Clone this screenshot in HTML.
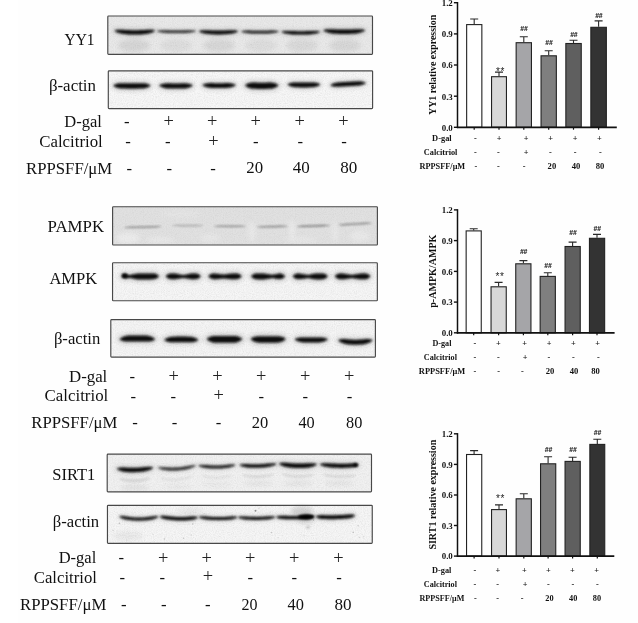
<!DOCTYPE html>
<html lang="en"><head><meta charset="utf-8"><title>Figure</title>
<style>
html,body{margin:0;padding:0;background:#fff;}
body{width:638px;height:623px;overflow:hidden;}
svg{display:block;}
text{white-space:pre;}
</style></head><body>
<svg width="638" height="623" viewBox="0 0 638 623">
<defs>
<filter id="b1" filterUnits="userSpaceOnUse" x="0" y="0" width="638" height="623"><feGaussianBlur stdDeviation="0.9"/></filter>
<filter id="b2" filterUnits="userSpaceOnUse" x="0" y="0" width="638" height="623"><feGaussianBlur stdDeviation="2"/></filter>
<filter id="b4" filterUnits="userSpaceOnUse" x="0" y="0" width="638" height="623"><feGaussianBlur stdDeviation="0.7"/></filter>
<filter id="b5" filterUnits="userSpaceOnUse" x="0" y="0" width="638" height="623"><feGaussianBlur stdDeviation="1.3"/></filter>
<filter id="b3" filterUnits="userSpaceOnUse" x="0" y="0" width="638" height="623"><feGaussianBlur stdDeviation="0.6"/></filter>
<filter id="noise" x="0" y="0" width="100%" height="100%"><feTurbulence type="fractalNoise" baseFrequency="0.9" numOctaves="2" seed="3" result="t"/><feColorMatrix type="matrix" values="0 0 0 0 0.5  0 0 0 0 0.5  0 0 0 0 0.5  0.6 0.6 0.6 0 -0.75"/><feComposite in2="SourceGraphic" operator="in"/></filter>
</defs>
<rect width="638" height="623" fill="#fff"/>
<rect x="18" y="0" width="620" height="623" fill="#fefefe"/>

<rect x="107.8" y="16.0" width="264.7" height="38.3" fill="#e9e9e9"/>
<rect x="107.8" y="16.0" width="264.7" height="38.3" fill="#fff" filter="url(#noise)" opacity="0.5"/>
<ellipse cx="134" cy="45.5" rx="16" ry="6.5" fill="#000" opacity="0.08000000000000002" filter="url(#b2)"/>
<ellipse cx="176" cy="45.5" rx="16" ry="6.5" fill="#000" opacity="0.048" filter="url(#b2)"/>
<ellipse cx="219" cy="45.5" rx="16" ry="6.5" fill="#000" opacity="0.072" filter="url(#b2)"/>
<ellipse cx="261" cy="45.5" rx="16" ry="6.5" fill="#000" opacity="0.048" filter="url(#b2)"/>
<ellipse cx="302" cy="45.5" rx="16" ry="6.5" fill="#000" opacity="0.064" filter="url(#b2)"/>
<ellipse cx="345" cy="45.5" rx="16" ry="6.5" fill="#000" opacity="0.072" filter="url(#b2)"/>
<path d="M114.5 30.6 L116.0 30.0 L117.5 29.8 L119.0 29.7 L120.5 29.7 L122.0 29.7 L123.5 29.8 L125.0 29.9 L126.5 30.0 L128.0 30.1 L129.5 30.1 L131.0 30.2 L132.5 30.2 L134.0 30.2 L135.5 30.2 L137.0 30.2 L138.5 30.2 L140.0 30.1 L141.5 30.1 L143.0 30.0 L144.5 29.9 L146.0 29.8 L147.5 29.7 L149.0 29.7 L150.5 29.7 L152.0 29.8 L153.5 30.0 L155.0 30.6 L155.0 30.6 L153.5 31.8 L152.0 32.4 L150.5 32.9 L149.0 33.3 L147.5 33.7 L146.0 33.9 L144.5 34.1 L143.0 34.3 L141.5 34.4 L140.0 34.4 L138.5 34.5 L137.0 34.5 L135.5 34.5 L134.0 34.5 L132.5 34.5 L131.0 34.5 L129.5 34.4 L128.0 34.4 L126.5 34.3 L125.0 34.1 L123.5 33.9 L122.0 33.7 L120.5 33.3 L119.0 32.9 L117.5 32.4 L116.0 31.8 L114.5 30.6Z" fill="none" stroke="#000" stroke-width="3.9" stroke-linejoin="round" opacity="0.13" filter="url(#b2)"/>
<path d="M114.5 30.6 L116.0 30.0 L117.5 29.8 L119.0 29.7 L120.5 29.7 L122.0 29.7 L123.5 29.8 L125.0 29.9 L126.5 30.0 L128.0 30.1 L129.5 30.1 L131.0 30.2 L132.5 30.2 L134.0 30.2 L135.5 30.2 L137.0 30.2 L138.5 30.2 L140.0 30.1 L141.5 30.1 L143.0 30.0 L144.5 29.9 L146.0 29.8 L147.5 29.7 L149.0 29.7 L150.5 29.7 L152.0 29.8 L153.5 30.0 L155.0 30.6 L155.0 30.6 L153.5 31.8 L152.0 32.4 L150.5 32.9 L149.0 33.3 L147.5 33.7 L146.0 33.9 L144.5 34.1 L143.0 34.3 L141.5 34.4 L140.0 34.4 L138.5 34.5 L137.0 34.5 L135.5 34.5 L134.0 34.5 L132.5 34.5 L131.0 34.5 L129.5 34.4 L128.0 34.4 L126.5 34.3 L125.0 34.1 L123.5 33.9 L122.0 33.7 L120.5 33.3 L119.0 32.9 L117.5 32.4 L116.0 31.8 L114.5 30.6Z" fill="#0a0a0a" opacity="1" filter="url(#b1)"/>
<path d="M157.0 31.0 L158.5 30.6 L160.0 30.4 L161.5 30.4 L163.0 30.3 L164.5 30.3 L166.0 30.3 L167.5 30.3 L169.0 30.4 L170.5 30.4 L172.0 30.5 L173.5 30.5 L175.0 30.5 L176.5 30.5 L178.0 30.5 L179.5 30.5 L181.0 30.5 L182.5 30.4 L184.0 30.4 L185.5 30.3 L187.0 30.3 L188.5 30.3 L190.0 30.3 L191.5 30.4 L193.0 30.4 L194.5 30.6 L196.0 31.0 L196.0 31.0 L194.5 31.7 L193.0 32.0 L191.5 32.3 L190.0 32.5 L188.5 32.7 L187.0 32.8 L185.5 32.9 L184.0 33.0 L182.5 33.0 L181.0 33.1 L179.5 33.1 L178.0 33.1 L176.5 33.1 L175.0 33.1 L173.5 33.1 L172.0 33.1 L170.5 33.0 L169.0 33.0 L167.5 32.9 L166.0 32.8 L164.5 32.7 L163.0 32.5 L161.5 32.3 L160.0 32.0 L158.5 31.7 L157.0 31.0Z" fill="none" stroke="#000" stroke-width="2.3" stroke-linejoin="round" opacity="0.13" filter="url(#b2)"/>
<path d="M157.0 31.0 L158.5 30.6 L160.0 30.4 L161.5 30.4 L163.0 30.3 L164.5 30.3 L166.0 30.3 L167.5 30.3 L169.0 30.4 L170.5 30.4 L172.0 30.5 L173.5 30.5 L175.0 30.5 L176.5 30.5 L178.0 30.5 L179.5 30.5 L181.0 30.5 L182.5 30.4 L184.0 30.4 L185.5 30.3 L187.0 30.3 L188.5 30.3 L190.0 30.3 L191.5 30.4 L193.0 30.4 L194.5 30.6 L196.0 31.0 L196.0 31.0 L194.5 31.7 L193.0 32.0 L191.5 32.3 L190.0 32.5 L188.5 32.7 L187.0 32.8 L185.5 32.9 L184.0 33.0 L182.5 33.0 L181.0 33.1 L179.5 33.1 L178.0 33.1 L176.5 33.1 L175.0 33.1 L173.5 33.1 L172.0 33.1 L170.5 33.0 L169.0 33.0 L167.5 32.9 L166.0 32.8 L164.5 32.7 L163.0 32.5 L161.5 32.3 L160.0 32.0 L158.5 31.7 L157.0 31.0Z" fill="#0a0a0a" opacity="0.85" filter="url(#b1)"/>
<path d="M199.0 31.2 L200.5 30.6 L202.0 30.4 L203.5 30.3 L205.0 30.3 L206.5 30.3 L208.0 30.3 L209.5 30.3 L211.0 30.4 L212.5 30.5 L214.0 30.5 L215.5 30.6 L217.0 30.6 L218.5 30.6 L220.0 30.6 L221.5 30.6 L223.0 30.5 L224.5 30.5 L226.0 30.4 L227.5 30.3 L229.0 30.3 L230.5 30.3 L232.0 30.3 L233.5 30.3 L235.0 30.4 L236.5 30.6 L238.0 31.2 L238.0 31.2 L236.5 32.2 L235.0 32.7 L233.5 33.2 L232.0 33.5 L230.5 33.8 L229.0 34.0 L227.5 34.1 L226.0 34.2 L224.5 34.3 L223.0 34.3 L221.5 34.4 L220.0 34.4 L218.5 34.4 L217.0 34.4 L215.5 34.4 L214.0 34.3 L212.5 34.3 L211.0 34.2 L209.5 34.1 L208.0 34.0 L206.5 33.8 L205.0 33.5 L203.5 33.2 L202.0 32.7 L200.5 32.2 L199.0 31.2Z" fill="none" stroke="#000" stroke-width="3.4" stroke-linejoin="round" opacity="0.13" filter="url(#b2)"/>
<path d="M199.0 31.2 L200.5 30.6 L202.0 30.4 L203.5 30.3 L205.0 30.3 L206.5 30.3 L208.0 30.3 L209.5 30.3 L211.0 30.4 L212.5 30.5 L214.0 30.5 L215.5 30.6 L217.0 30.6 L218.5 30.6 L220.0 30.6 L221.5 30.6 L223.0 30.5 L224.5 30.5 L226.0 30.4 L227.5 30.3 L229.0 30.3 L230.5 30.3 L232.0 30.3 L233.5 30.3 L235.0 30.4 L236.5 30.6 L238.0 31.2 L238.0 31.2 L236.5 32.2 L235.0 32.7 L233.5 33.2 L232.0 33.5 L230.5 33.8 L229.0 34.0 L227.5 34.1 L226.0 34.2 L224.5 34.3 L223.0 34.3 L221.5 34.4 L220.0 34.4 L218.5 34.4 L217.0 34.4 L215.5 34.4 L214.0 34.3 L212.5 34.3 L211.0 34.2 L209.5 34.1 L208.0 34.0 L206.5 33.8 L205.0 33.5 L203.5 33.2 L202.0 32.7 L200.5 32.2 L199.0 31.2Z" fill="#0a0a0a" opacity="1" filter="url(#b1)"/>
<path d="M241.0 31.4 L242.5 30.9 L244.0 30.8 L245.6 30.7 L247.1 30.6 L248.6 30.6 L250.1 30.6 L251.6 30.7 L253.2 30.7 L254.7 30.7 L256.2 30.8 L257.7 30.8 L259.2 30.8 L260.8 30.8 L262.3 30.8 L263.8 30.8 L265.3 30.7 L266.8 30.7 L268.4 30.7 L269.9 30.6 L271.4 30.6 L272.9 30.6 L274.4 30.7 L276.0 30.8 L277.5 30.9 L279.0 31.4 L279.0 31.4 L277.5 32.1 L276.0 32.5 L274.4 32.8 L272.9 33.0 L271.4 33.2 L269.9 33.3 L268.4 33.4 L266.8 33.5 L265.3 33.5 L263.8 33.6 L262.3 33.6 L260.8 33.6 L259.2 33.6 L257.7 33.6 L256.2 33.6 L254.7 33.5 L253.2 33.5 L251.6 33.4 L250.1 33.3 L248.6 33.2 L247.1 33.0 L245.6 32.8 L244.0 32.5 L242.5 32.1 L241.0 31.4Z" fill="none" stroke="#000" stroke-width="2.5" stroke-linejoin="round" opacity="0.13" filter="url(#b2)"/>
<path d="M241.0 31.4 L242.5 30.9 L244.0 30.8 L245.6 30.7 L247.1 30.6 L248.6 30.6 L250.1 30.6 L251.6 30.7 L253.2 30.7 L254.7 30.7 L256.2 30.8 L257.7 30.8 L259.2 30.8 L260.8 30.8 L262.3 30.8 L263.8 30.8 L265.3 30.7 L266.8 30.7 L268.4 30.7 L269.9 30.6 L271.4 30.6 L272.9 30.6 L274.4 30.7 L276.0 30.8 L277.5 30.9 L279.0 31.4 L279.0 31.4 L277.5 32.1 L276.0 32.5 L274.4 32.8 L272.9 33.0 L271.4 33.2 L269.9 33.3 L268.4 33.4 L266.8 33.5 L265.3 33.5 L263.8 33.6 L262.3 33.6 L260.8 33.6 L259.2 33.6 L257.7 33.6 L256.2 33.6 L254.7 33.5 L253.2 33.5 L251.6 33.4 L250.1 33.3 L248.6 33.2 L247.1 33.0 L245.6 32.8 L244.0 32.5 L242.5 32.1 L241.0 31.4Z" fill="#0a0a0a" opacity="0.9" filter="url(#b1)"/>
<path d="M281.5 31.8 L283.0 31.2 L284.6 31.1 L286.1 31.0 L287.7 30.9 L289.2 30.9 L290.7 31.0 L292.3 31.0 L293.8 31.1 L295.4 31.1 L296.9 31.2 L298.4 31.2 L300.0 31.2 L301.5 31.2 L303.1 31.2 L304.6 31.2 L306.1 31.1 L307.7 31.1 L309.2 31.0 L310.8 31.0 L312.3 30.9 L313.8 30.9 L315.4 31.0 L316.9 31.1 L318.5 31.2 L320.0 31.8 L320.0 31.8 L318.5 32.7 L316.9 33.2 L315.4 33.5 L313.8 33.8 L312.3 34.1 L310.8 34.2 L309.2 34.4 L307.7 34.5 L306.1 34.5 L304.6 34.6 L303.1 34.6 L301.5 34.6 L300.0 34.6 L298.4 34.6 L296.9 34.6 L295.4 34.5 L293.8 34.5 L292.3 34.4 L290.7 34.2 L289.2 34.1 L287.7 33.8 L286.1 33.5 L284.6 33.2 L283.0 32.7 L281.5 31.8Z" fill="none" stroke="#000" stroke-width="3.1" stroke-linejoin="round" opacity="0.13" filter="url(#b2)"/>
<path d="M281.5 31.8 L283.0 31.2 L284.6 31.1 L286.1 31.0 L287.7 30.9 L289.2 30.9 L290.7 31.0 L292.3 31.0 L293.8 31.1 L295.4 31.1 L296.9 31.2 L298.4 31.2 L300.0 31.2 L301.5 31.2 L303.1 31.2 L304.6 31.2 L306.1 31.1 L307.7 31.1 L309.2 31.0 L310.8 31.0 L312.3 30.9 L313.8 30.9 L315.4 31.0 L316.9 31.1 L318.5 31.2 L320.0 31.8 L320.0 31.8 L318.5 32.7 L316.9 33.2 L315.4 33.5 L313.8 33.8 L312.3 34.1 L310.8 34.2 L309.2 34.4 L307.7 34.5 L306.1 34.5 L304.6 34.6 L303.1 34.6 L301.5 34.6 L300.0 34.6 L298.4 34.6 L296.9 34.6 L295.4 34.5 L293.8 34.5 L292.3 34.4 L290.7 34.2 L289.2 34.1 L287.7 33.8 L286.1 33.5 L284.6 33.2 L283.0 32.7 L281.5 31.8Z" fill="#0a0a0a" opacity="1" filter="url(#b1)"/>
<path d="M323.5 30.4 L325.0 29.6 L326.6 29.4 L328.1 29.3 L329.6 29.2 L331.2 29.2 L332.7 29.2 L334.3 29.3 L335.8 29.4 L337.3 29.4 L338.9 29.5 L340.4 29.6 L341.9 29.6 L343.5 29.6 L345.0 29.6 L346.6 29.6 L348.1 29.6 L349.6 29.5 L351.2 29.4 L352.7 29.4 L354.2 29.3 L355.8 29.2 L357.3 29.2 L358.9 29.2 L360.4 29.3 L361.9 29.4 L363.5 29.6 L365.0 30.4 L365.0 30.4 L363.5 31.5 L361.9 32.1 L360.4 32.6 L358.9 33.0 L357.3 33.3 L355.8 33.5 L354.2 33.7 L352.7 33.8 L351.2 33.8 L349.6 33.9 L348.1 34.0 L346.6 34.0 L345.0 34.0 L343.5 34.0 L341.9 34.0 L340.4 34.0 L338.9 33.9 L337.3 33.8 L335.8 33.8 L334.3 33.7 L332.7 33.5 L331.2 33.3 L329.6 33.0 L328.1 32.6 L326.6 32.1 L325.0 31.5 L323.5 30.4Z" fill="none" stroke="#000" stroke-width="4.0" stroke-linejoin="round" opacity="0.13" filter="url(#b2)"/>
<path d="M323.5 30.4 L325.0 29.6 L326.6 29.4 L328.1 29.3 L329.6 29.2 L331.2 29.2 L332.7 29.2 L334.3 29.3 L335.8 29.4 L337.3 29.4 L338.9 29.5 L340.4 29.6 L341.9 29.6 L343.5 29.6 L345.0 29.6 L346.6 29.6 L348.1 29.6 L349.6 29.5 L351.2 29.4 L352.7 29.4 L354.2 29.3 L355.8 29.2 L357.3 29.2 L358.9 29.2 L360.4 29.3 L361.9 29.4 L363.5 29.6 L365.0 30.4 L365.0 30.4 L363.5 31.5 L361.9 32.1 L360.4 32.6 L358.9 33.0 L357.3 33.3 L355.8 33.5 L354.2 33.7 L352.7 33.8 L351.2 33.8 L349.6 33.9 L348.1 34.0 L346.6 34.0 L345.0 34.0 L343.5 34.0 L341.9 34.0 L340.4 34.0 L338.9 33.9 L337.3 33.8 L335.8 33.8 L334.3 33.7 L332.7 33.5 L331.2 33.3 L329.6 33.0 L328.1 32.6 L326.6 32.1 L325.0 31.5 L323.5 30.4Z" fill="#0a0a0a" opacity="1" filter="url(#b1)"/>
<rect x="107.8" y="16.0" width="264.7" height="38.3" fill="none" stroke="#484848" stroke-width="1.15" rx="0.8"/>
<rect x="108.3" y="70.8" width="264.3" height="37.8" fill="#f7f7f7"/>
<rect x="108.3" y="70.8" width="264.3" height="37.8" fill="#fff" filter="url(#noise)" opacity="0.5"/>
<path d="M113.3 85.5 L114.8 84.5 L116.4 83.9 L118.0 83.5 L119.5 83.3 L121.0 83.2 L122.6 83.2 L124.2 83.2 L125.7 83.2 L127.2 83.3 L128.8 83.3 L130.3 83.3 L131.9 83.3 L133.4 83.3 L135.0 83.3 L136.6 83.3 L138.1 83.2 L139.7 83.2 L141.2 83.2 L142.8 83.2 L144.3 83.3 L145.8 83.5 L147.4 83.9 L148.9 84.5 L150.5 85.5 L150.5 85.5 L148.9 86.7 L147.4 87.4 L145.8 87.9 L144.3 88.3 L142.8 88.5 L141.2 88.6 L139.7 88.6 L138.1 88.6 L136.6 88.7 L135.0 88.7 L133.4 88.7 L131.9 88.7 L130.3 88.7 L128.8 88.7 L127.2 88.7 L125.7 88.6 L124.2 88.6 L122.6 88.6 L121.0 88.5 L119.5 88.3 L118.0 87.9 L116.4 87.4 L114.8 86.7 L113.3 85.5Z" fill="none" stroke="#000" stroke-width="4.9" stroke-linejoin="round" opacity="0.13" filter="url(#b2)"/>
<path d="M113.3 85.5 L114.8 84.5 L116.4 83.9 L118.0 83.5 L119.5 83.3 L121.0 83.2 L122.6 83.2 L124.2 83.2 L125.7 83.2 L127.2 83.3 L128.8 83.3 L130.3 83.3 L131.9 83.3 L133.4 83.3 L135.0 83.3 L136.6 83.3 L138.1 83.2 L139.7 83.2 L141.2 83.2 L142.8 83.2 L144.3 83.3 L145.8 83.5 L147.4 83.9 L148.9 84.5 L150.5 85.5 L150.5 85.5 L148.9 86.7 L147.4 87.4 L145.8 87.9 L144.3 88.3 L142.8 88.5 L141.2 88.6 L139.7 88.6 L138.1 88.6 L136.6 88.7 L135.0 88.7 L133.4 88.7 L131.9 88.7 L130.3 88.7 L128.8 88.7 L127.2 88.7 L125.7 88.6 L124.2 88.6 L122.6 88.6 L121.0 88.5 L119.5 88.3 L118.0 87.9 L116.4 87.4 L114.8 86.7 L113.3 85.5Z" fill="#0a0a0a" opacity="1" filter="url(#b1)"/>
<path d="M159.2 85.5 L160.7 84.6 L162.3 84.0 L163.8 83.7 L165.3 83.4 L166.8 83.3 L168.4 83.3 L169.9 83.3 L171.4 83.4 L172.9 83.4 L174.5 83.4 L176.0 83.4 L177.5 83.4 L179.1 83.4 L180.6 83.4 L182.1 83.3 L183.6 83.3 L185.2 83.3 L186.7 83.4 L188.2 83.7 L189.7 84.0 L191.3 84.6 L192.8 85.5 L192.8 85.5 L191.3 86.6 L189.7 87.3 L188.2 87.8 L186.7 88.2 L185.2 88.4 L183.6 88.5 L182.1 88.5 L180.6 88.6 L179.1 88.6 L177.5 88.6 L176.0 88.6 L174.5 88.6 L172.9 88.6 L171.4 88.6 L169.9 88.5 L168.4 88.5 L166.8 88.4 L165.3 88.2 L163.8 87.8 L162.3 87.3 L160.7 86.6 L159.2 85.5Z" fill="none" stroke="#000" stroke-width="4.7" stroke-linejoin="round" opacity="0.13" filter="url(#b2)"/>
<path d="M159.2 85.5 L160.7 84.6 L162.3 84.0 L163.8 83.7 L165.3 83.4 L166.8 83.3 L168.4 83.3 L169.9 83.3 L171.4 83.4 L172.9 83.4 L174.5 83.4 L176.0 83.4 L177.5 83.4 L179.1 83.4 L180.6 83.4 L182.1 83.3 L183.6 83.3 L185.2 83.3 L186.7 83.4 L188.2 83.7 L189.7 84.0 L191.3 84.6 L192.8 85.5 L192.8 85.5 L191.3 86.6 L189.7 87.3 L188.2 87.8 L186.7 88.2 L185.2 88.4 L183.6 88.5 L182.1 88.5 L180.6 88.6 L179.1 88.6 L177.5 88.6 L176.0 88.6 L174.5 88.6 L172.9 88.6 L171.4 88.6 L169.9 88.5 L168.4 88.5 L166.8 88.4 L165.3 88.2 L163.8 87.8 L162.3 87.3 L160.7 86.6 L159.2 85.5Z" fill="#0a0a0a" opacity="1" filter="url(#b1)"/>
<path d="M202.3 85.1 L203.8 84.2 L205.4 83.7 L206.9 83.4 L208.4 83.2 L209.9 83.1 L211.5 83.1 L213.0 83.1 L214.5 83.2 L216.0 83.2 L217.6 83.2 L219.1 83.2 L220.6 83.2 L222.2 83.2 L223.7 83.2 L225.2 83.1 L226.7 83.1 L228.3 83.1 L229.8 83.2 L231.3 83.4 L232.8 83.7 L234.4 84.2 L235.9 85.1 L235.9 85.1 L234.4 86.1 L232.8 86.8 L231.3 87.3 L229.8 87.6 L228.3 87.8 L226.7 87.9 L225.2 87.9 L223.7 88.0 L222.2 88.0 L220.6 88.0 L219.1 88.0 L217.6 88.0 L216.0 88.0 L214.5 88.0 L213.0 87.9 L211.5 87.9 L209.9 87.8 L208.4 87.6 L206.9 87.3 L205.4 86.8 L203.8 86.1 L202.3 85.1Z" fill="none" stroke="#000" stroke-width="4.3" stroke-linejoin="round" opacity="0.13" filter="url(#b2)"/>
<path d="M202.3 85.1 L203.8 84.2 L205.4 83.7 L206.9 83.4 L208.4 83.2 L209.9 83.1 L211.5 83.1 L213.0 83.1 L214.5 83.2 L216.0 83.2 L217.6 83.2 L219.1 83.2 L220.6 83.2 L222.2 83.2 L223.7 83.2 L225.2 83.1 L226.7 83.1 L228.3 83.1 L229.8 83.2 L231.3 83.4 L232.8 83.7 L234.4 84.2 L235.9 85.1 L235.9 85.1 L234.4 86.1 L232.8 86.8 L231.3 87.3 L229.8 87.6 L228.3 87.8 L226.7 87.9 L225.2 87.9 L223.7 88.0 L222.2 88.0 L220.6 88.0 L219.1 88.0 L217.6 88.0 L216.0 88.0 L214.5 88.0 L213.0 87.9 L211.5 87.9 L209.9 87.8 L208.4 87.6 L206.9 87.3 L205.4 86.8 L203.8 86.1 L202.3 85.1Z" fill="#0a0a0a" opacity="1" filter="url(#b1)"/>
<path d="M245.0 85.3 L246.5 84.2 L248.0 83.5 L249.6 83.1 L251.1 82.8 L252.6 82.6 L254.1 82.6 L255.7 82.6 L257.2 82.7 L258.7 82.7 L260.2 82.7 L261.8 82.7 L263.3 82.7 L264.8 82.7 L266.3 82.7 L267.8 82.6 L269.4 82.6 L270.9 82.6 L272.4 82.8 L273.9 83.1 L275.5 83.5 L277.0 84.2 L278.5 85.3 L278.5 85.3 L277.0 86.6 L275.5 87.4 L273.9 88.0 L272.4 88.4 L270.9 88.7 L269.4 88.8 L267.8 88.8 L266.3 88.9 L264.8 88.9 L263.3 88.9 L261.8 88.9 L260.2 88.9 L258.7 88.9 L257.2 88.9 L255.7 88.8 L254.1 88.8 L252.6 88.7 L251.1 88.4 L249.6 88.0 L248.0 87.4 L246.5 86.6 L245.0 85.3Z" fill="none" stroke="#000" stroke-width="5.6" stroke-linejoin="round" opacity="0.13" filter="url(#b2)"/>
<path d="M245.0 85.3 L246.5 84.2 L248.0 83.5 L249.6 83.1 L251.1 82.8 L252.6 82.6 L254.1 82.6 L255.7 82.6 L257.2 82.7 L258.7 82.7 L260.2 82.7 L261.8 82.7 L263.3 82.7 L264.8 82.7 L266.3 82.7 L267.8 82.6 L269.4 82.6 L270.9 82.6 L272.4 82.8 L273.9 83.1 L275.5 83.5 L277.0 84.2 L278.5 85.3 L278.5 85.3 L277.0 86.6 L275.5 87.4 L273.9 88.0 L272.4 88.4 L270.9 88.7 L269.4 88.8 L267.8 88.8 L266.3 88.9 L264.8 88.9 L263.3 88.9 L261.8 88.9 L260.2 88.9 L258.7 88.9 L257.2 88.9 L255.7 88.8 L254.1 88.8 L252.6 88.7 L251.1 88.4 L249.6 88.0 L248.0 87.4 L246.5 86.6 L245.0 85.3Z" fill="#0a0a0a" opacity="1" filter="url(#b1)"/>
<path d="M287.5 84.5 L289.1 83.6 L290.6 83.1 L292.2 82.8 L293.7 82.6 L295.3 82.5 L296.9 82.5 L298.4 82.5 L300.0 82.6 L301.6 82.6 L303.1 82.6 L304.7 82.6 L306.2 82.6 L307.8 82.6 L309.4 82.5 L310.9 82.5 L312.5 82.5 L314.1 82.6 L315.6 82.8 L317.2 83.1 L318.7 83.6 L320.3 84.5 L320.3 84.5 L318.7 85.5 L317.2 86.2 L315.6 86.7 L314.1 87.0 L312.5 87.2 L310.9 87.3 L309.4 87.3 L307.8 87.4 L306.2 87.4 L304.7 87.4 L303.1 87.4 L301.6 87.4 L300.0 87.4 L298.4 87.3 L296.9 87.3 L295.3 87.2 L293.7 87.0 L292.2 86.7 L290.6 86.2 L289.1 85.5 L287.5 84.5Z" fill="none" stroke="#000" stroke-width="4.3" stroke-linejoin="round" opacity="0.13" filter="url(#b2)"/>
<path d="M287.5 84.5 L289.1 83.6 L290.6 83.1 L292.2 82.8 L293.7 82.6 L295.3 82.5 L296.9 82.5 L298.4 82.5 L300.0 82.6 L301.6 82.6 L303.1 82.6 L304.7 82.6 L306.2 82.6 L307.8 82.6 L309.4 82.5 L310.9 82.5 L312.5 82.5 L314.1 82.6 L315.6 82.8 L317.2 83.1 L318.7 83.6 L320.3 84.5 L320.3 84.5 L318.7 85.5 L317.2 86.2 L315.6 86.7 L314.1 87.0 L312.5 87.2 L310.9 87.3 L309.4 87.3 L307.8 87.4 L306.2 87.4 L304.7 87.4 L303.1 87.4 L301.6 87.4 L300.0 87.4 L298.4 87.3 L296.9 87.3 L295.3 87.2 L293.7 87.0 L292.2 86.7 L290.6 86.2 L289.1 85.5 L287.5 84.5Z" fill="#0a0a0a" opacity="1" filter="url(#b1)"/>
<path d="M330.3 85.2 L331.8 84.2 L333.4 83.6 L334.9 83.1 L336.5 82.7 L338.0 82.5 L339.6 82.3 L341.1 82.2 L342.7 82.1 L344.2 82.0 L345.8 81.9 L347.3 81.8 L348.9 81.8 L350.4 81.7 L352.0 81.6 L353.5 81.5 L355.1 81.4 L356.6 81.3 L358.2 81.2 L359.7 81.3 L361.3 81.5 L362.8 81.8 L364.4 82.2 L365.9 83.0 L365.9 83.0 L364.4 84.0 L362.8 84.6 L361.3 85.0 L359.7 85.4 L358.2 85.6 L356.6 85.7 L355.1 85.8 L353.5 85.9 L352.0 86.0 L350.4 86.1 L348.9 86.2 L347.3 86.2 L345.8 86.3 L344.2 86.4 L342.7 86.5 L341.1 86.6 L339.6 86.7 L338.0 86.8 L336.5 86.8 L334.9 86.6 L333.4 86.4 L331.8 86.0 L330.3 85.2Z" fill="none" stroke="#000" stroke-width="4.0" stroke-linejoin="round" opacity="0.13" filter="url(#b2)"/>
<path d="M330.3 85.2 L331.8 84.2 L333.4 83.6 L334.9 83.1 L336.5 82.7 L338.0 82.5 L339.6 82.3 L341.1 82.2 L342.7 82.1 L344.2 82.0 L345.8 81.9 L347.3 81.8 L348.9 81.8 L350.4 81.7 L352.0 81.6 L353.5 81.5 L355.1 81.4 L356.6 81.3 L358.2 81.2 L359.7 81.3 L361.3 81.5 L362.8 81.8 L364.4 82.2 L365.9 83.0 L365.9 83.0 L364.4 84.0 L362.8 84.6 L361.3 85.0 L359.7 85.4 L358.2 85.6 L356.6 85.7 L355.1 85.8 L353.5 85.9 L352.0 86.0 L350.4 86.1 L348.9 86.2 L347.3 86.2 L345.8 86.3 L344.2 86.4 L342.7 86.5 L341.1 86.6 L339.6 86.7 L338.0 86.8 L336.5 86.8 L334.9 86.6 L333.4 86.4 L331.8 86.0 L330.3 85.2Z" fill="#0a0a0a" opacity="1" filter="url(#b1)"/>
<rect x="108.3" y="70.8" width="264.3" height="37.8" fill="none" stroke="#484848" stroke-width="1.15" rx="0.8"/>
<text x="64.5" y="44.9" font-family="Liberation Serif, serif" font-size="16.7" font-weight="normal" textLength="30.0" lengthAdjust="spacingAndGlyphs" fill="#111">YY1</text>
<text x="48.9" y="90.8" font-family="Liberation Serif, serif" font-size="16.7" font-weight="normal" textLength="47.1" lengthAdjust="spacingAndGlyphs" fill="#111">β-actin</text>
<text x="64.3" y="127.1" font-family="Liberation Serif, serif" font-size="16.7" font-weight="normal" textLength="37.6" lengthAdjust="spacingAndGlyphs" fill="#111">D-gal</text>
<text x="39.2" y="147.0" font-family="Liberation Serif, serif" font-size="16.7" font-weight="normal" textLength="63.6" lengthAdjust="spacingAndGlyphs" fill="#111">Calcitriol</text>
<text x="26" y="174.1" font-family="Liberation Serif, serif" font-size="16.7" font-weight="normal" textLength="86.2" lengthAdjust="spacingAndGlyphs" fill="#111">RPPSFF/μM</text>
<text x="126.8" y="127.0" font-family="Liberation Serif, serif" font-size="16.7" font-weight="normal" text-anchor="middle" fill="#111">-</text>
<text x="168.6" y="126.8" font-family="Liberation Serif, serif" font-size="18.4" font-weight="normal" text-anchor="middle" fill="#222">+</text>
<text x="212.3" y="126.8" font-family="Liberation Serif, serif" font-size="18.4" font-weight="normal" text-anchor="middle" fill="#222">+</text>
<text x="255.8" y="126.8" font-family="Liberation Serif, serif" font-size="18.4" font-weight="normal" text-anchor="middle" fill="#222">+</text>
<text x="299.6" y="126.8" font-family="Liberation Serif, serif" font-size="18.4" font-weight="normal" text-anchor="middle" fill="#222">+</text>
<text x="343.4" y="126.8" font-family="Liberation Serif, serif" font-size="18.4" font-weight="normal" text-anchor="middle" fill="#222">+</text>
<text x="128.1" y="147.4" font-family="Liberation Serif, serif" font-size="16.7" font-weight="normal" text-anchor="middle" fill="#111">-</text>
<text x="167.7" y="147.4" font-family="Liberation Serif, serif" font-size="16.7" font-weight="normal" text-anchor="middle" fill="#111">-</text>
<text x="213.5" y="147.2" font-family="Liberation Serif, serif" font-size="18.4" font-weight="normal" text-anchor="middle" fill="#222">+</text>
<text x="255.8" y="147.4" font-family="Liberation Serif, serif" font-size="16.7" font-weight="normal" text-anchor="middle" fill="#111">-</text>
<text x="300.2" y="147.4" font-family="Liberation Serif, serif" font-size="16.7" font-weight="normal" text-anchor="middle" fill="#111">-</text>
<text x="344.1" y="147.4" font-family="Liberation Serif, serif" font-size="16.7" font-weight="normal" text-anchor="middle" fill="#111">-</text>
<text x="129.3" y="174.3" font-family="Liberation Serif, serif" font-size="16.7" font-weight="normal" text-anchor="middle" fill="#111">-</text>
<text x="169.2" y="174.3" font-family="Liberation Serif, serif" font-size="16.7" font-weight="normal" text-anchor="middle" fill="#111">-</text>
<text x="213.1" y="174.3" font-family="Liberation Serif, serif" font-size="16.7" font-weight="normal" text-anchor="middle" fill="#111">-</text>
<text x="246.3" y="172.9" font-family="Liberation Serif, serif" font-size="16.7" font-weight="normal" textLength="16.8" lengthAdjust="spacingAndGlyphs" fill="#111">20</text>
<text x="292.7" y="172.9" font-family="Liberation Serif, serif" font-size="16.7" font-weight="normal" textLength="17.0" lengthAdjust="spacingAndGlyphs" fill="#111">40</text>
<text x="340.3" y="172.9" font-family="Liberation Serif, serif" font-size="16.7" font-weight="normal" textLength="17.1" lengthAdjust="spacingAndGlyphs" fill="#111">80</text>
<rect x="112.6" y="206.7" width="264.8" height="38.3" fill="#e1e1e1"/>
<rect x="112.6" y="206.7" width="264.8" height="38.3" fill="#fff" filter="url(#noise)" opacity="0.5"/>
<path d="M123.8 227.4 L125.3 227.1 L126.9 226.9 L128.4 226.7 L129.9 226.6 L131.5 226.5 L133.0 226.5 L134.6 226.4 L136.1 226.4 L137.6 226.4 L139.2 226.3 L140.7 226.3 L142.2 226.3 L143.8 226.2 L145.3 226.2 L146.8 226.1 L148.4 226.1 L149.9 226.0 L151.4 226.0 L153.0 225.9 L154.5 225.9 L156.1 225.9 L157.6 226.0 L159.1 226.0 L160.7 226.2 L162.2 226.4 L162.2 226.4 L160.7 226.8 L159.1 227.0 L157.6 227.3 L156.1 227.4 L154.5 227.5 L153.0 227.6 L151.4 227.7 L149.9 227.7 L148.4 227.8 L146.8 227.8 L145.3 227.9 L143.8 227.9 L142.2 228.0 L140.7 228.0 L139.2 228.0 L137.6 228.1 L136.1 228.1 L134.6 228.1 L133.0 228.2 L131.5 228.1 L129.9 228.1 L128.4 228.0 L126.9 227.9 L125.3 227.7 L123.8 227.4Z" fill="#0a0a0a" opacity="0.39" filter="url(#b1)"/>
<path d="M171.5 225.4 L173.0 225.1 L174.6 224.9 L176.1 224.8 L177.7 224.7 L179.2 224.7 L180.8 224.7 L182.3 224.7 L183.9 224.7 L185.4 224.7 L187.0 224.7 L188.5 224.8 L190.1 224.8 L191.6 224.8 L193.2 224.8 L194.7 224.8 L196.3 224.8 L197.8 224.9 L199.4 225.0 L200.9 225.1 L202.5 225.3 L204.0 225.6 L204.0 225.6 L202.5 225.9 L200.9 226.1 L199.4 226.3 L197.8 226.4 L196.3 226.4 L194.7 226.5 L193.2 226.5 L191.6 226.5 L190.1 226.5 L188.5 226.5 L187.0 226.4 L185.4 226.4 L183.9 226.4 L182.3 226.4 L180.8 226.4 L179.2 226.3 L177.7 226.2 L176.1 226.1 L174.6 226.0 L173.0 225.7 L171.5 225.4Z" fill="#0a0a0a" opacity="0.23399999999999999" filter="url(#b1)"/>
<path d="M212.9 226.3 L214.4 226.0 L216.0 225.8 L217.5 225.7 L219.0 225.6 L220.6 225.5 L222.1 225.5 L223.7 225.5 L225.2 225.4 L226.7 225.5 L228.3 225.4 L229.8 225.5 L231.3 225.5 L232.9 225.5 L234.4 225.4 L235.9 225.5 L237.5 225.5 L239.0 225.5 L240.6 225.6 L242.1 225.7 L243.6 225.8 L245.2 226.0 L246.7 226.3 L246.7 226.3 L245.2 226.6 L243.6 226.8 L242.1 226.9 L240.6 227.0 L239.0 227.1 L237.5 227.1 L235.9 227.2 L234.4 227.1 L232.9 227.2 L231.3 227.2 L229.8 227.2 L228.3 227.1 L226.7 227.2 L225.2 227.1 L223.7 227.2 L222.1 227.1 L220.6 227.1 L219.0 227.0 L217.5 226.9 L216.0 226.8 L214.4 226.6 L212.9 226.3Z" fill="#0a0a0a" opacity="0.36400000000000005" filter="url(#b1)"/>
<path d="M256.3 227.0 L257.9 226.6 L259.4 226.4 L261.0 226.2 L262.5 226.1 L264.1 226.0 L265.6 225.9 L267.2 225.9 L268.7 225.8 L270.3 225.8 L271.8 225.8 L273.4 225.7 L274.9 225.7 L276.5 225.7 L278.0 225.6 L279.6 225.6 L281.1 225.6 L282.7 225.6 L284.2 225.7 L285.8 225.8 L287.3 225.9 L288.9 226.2 L288.9 226.2 L287.3 226.6 L285.8 226.8 L284.2 227.0 L282.7 227.1 L281.1 227.2 L279.6 227.3 L278.0 227.3 L276.5 227.4 L274.9 227.4 L273.4 227.4 L271.8 227.5 L270.3 227.5 L268.7 227.5 L267.2 227.6 L265.6 227.6 L264.1 227.6 L262.5 227.6 L261.0 227.5 L259.4 227.4 L257.9 227.3 L256.3 227.0Z" fill="#0a0a0a" opacity="0.39" filter="url(#b1)"/>
<path d="M296.4 226.6 L297.9 226.2 L299.5 226.0 L301.0 225.8 L302.6 225.6 L304.1 225.5 L305.6 225.4 L307.2 225.4 L308.7 225.3 L310.3 225.3 L311.8 225.2 L313.4 225.2 L314.9 225.1 L316.4 225.0 L318.0 225.0 L319.5 224.9 L321.1 224.8 L322.6 224.8 L324.1 224.8 L325.7 224.9 L327.2 224.9 L328.8 225.1 L330.3 225.3 L330.3 225.3 L328.8 225.7 L327.2 225.9 L325.7 226.1 L324.1 226.3 L322.6 226.4 L321.1 226.5 L319.5 226.6 L318.0 226.7 L316.4 226.7 L314.9 226.8 L313.4 226.8 L311.8 226.9 L310.3 227.0 L308.7 227.0 L307.2 227.1 L305.6 227.1 L304.1 227.2 L302.6 227.1 L301.0 227.1 L299.5 227.0 L297.9 226.9 L296.4 226.6Z" fill="#0a0a0a" opacity="0.46799999999999997" filter="url(#b1)"/>
<path d="M337.8 225.0 L339.3 224.6 L340.8 224.3 L342.3 224.1 L343.8 223.9 L345.3 223.8 L346.8 223.6 L348.3 223.5 L349.8 223.5 L351.3 223.4 L352.8 223.3 L354.3 223.2 L355.9 223.1 L357.4 223.0 L358.9 222.9 L360.4 222.8 L361.9 222.8 L363.4 222.7 L364.9 222.6 L366.4 222.6 L367.9 222.6 L369.4 222.7 L370.9 222.8 L372.4 223.0 L372.4 223.0 L370.9 223.4 L369.4 223.7 L367.9 223.9 L366.4 224.1 L364.9 224.2 L363.4 224.4 L361.9 224.5 L360.4 224.5 L358.9 224.6 L357.4 224.7 L355.9 224.8 L354.3 224.9 L352.8 225.0 L351.3 225.1 L349.8 225.2 L348.3 225.2 L346.8 225.3 L345.3 225.4 L343.8 225.4 L342.3 225.4 L340.8 225.3 L339.3 225.2 L337.8 225.0Z" fill="#0a0a0a" opacity="0.39" filter="url(#b1)"/>
<ellipse cx="128" cy="238" rx="12" ry="5" fill="#fff" opacity="0.35" filter="url(#b2)"/>
<ellipse cx="160" cy="240" rx="14" ry="3" fill="#fff" opacity="0.25" filter="url(#b2)"/>
<ellipse cx="252" cy="232" rx="3" ry="10" fill="#fff" opacity="0.3" filter="url(#b2)"/>
<ellipse cx="292" cy="230" rx="3" ry="10" fill="#fff" opacity="0.3" filter="url(#b2)"/>
<ellipse cx="335" cy="232" rx="3" ry="10" fill="#fff" opacity="0.25" filter="url(#b2)"/>
<ellipse cx="210" cy="238" rx="10" ry="4" fill="#fff" opacity="0.2" filter="url(#b2)"/>
<ellipse cx="300" cy="240" rx="16" ry="3" fill="#fff" opacity="0.2" filter="url(#b2)"/>
<ellipse cx="360" cy="236" rx="10" ry="5" fill="#fff" opacity="0.25" filter="url(#b2)"/>
<ellipse cx="180" cy="214" rx="20" ry="3" fill="#fff" opacity="0.15" filter="url(#b2)"/>
<rect x="112.6" y="206.7" width="264.8" height="38.3" fill="none" stroke="#484848" stroke-width="1.15" rx="0.8"/>
<rect x="112.55" y="262.7" width="264.8" height="38.0" fill="#f6f6f6"/>
<rect x="112.55" y="262.7" width="264.8" height="38.0" fill="#fff" filter="url(#noise)" opacity="0.5"/>
<path d="M121.3 276.2 L122.8 274.8 L124.3 274.2 L125.8 274.2 L127.3 274.6 L128.8 274.9 L130.3 274.9 L131.9 274.6 L133.4 274.2 L134.9 273.9 L136.4 273.7 L137.9 273.6 L139.4 273.6 L140.9 273.6 L142.4 273.5 L143.9 273.5 L145.4 273.5 L146.9 273.5 L148.4 273.5 L150.0 273.5 L151.5 273.4 L153.0 273.4 L154.5 273.5 L156.0 273.9 L157.5 274.7 L159.0 276.2 L159.0 276.2 L157.5 277.8 L156.0 278.6 L154.5 279.1 L153.0 279.3 L151.5 279.3 L150.0 279.4 L148.4 279.4 L146.9 279.4 L145.4 279.4 L143.9 279.4 L142.4 279.4 L140.9 279.4 L139.4 279.4 L137.9 279.4 L136.4 279.3 L134.9 279.0 L133.4 278.7 L131.9 278.2 L130.3 277.9 L128.8 277.9 L127.3 278.2 L125.8 278.4 L124.3 278.3 L122.8 277.7 L121.3 276.2Z" fill="none" stroke="#000" stroke-width="5.3" stroke-linejoin="round" opacity="0.13" filter="url(#b2)"/>
<path d="M121.3 276.2 L122.8 274.8 L124.3 274.2 L125.8 274.2 L127.3 274.6 L128.8 274.9 L130.3 274.9 L131.9 274.6 L133.4 274.2 L134.9 273.9 L136.4 273.7 L137.9 273.6 L139.4 273.6 L140.9 273.6 L142.4 273.5 L143.9 273.5 L145.4 273.5 L146.9 273.5 L148.4 273.5 L150.0 273.5 L151.5 273.4 L153.0 273.4 L154.5 273.5 L156.0 273.9 L157.5 274.7 L159.0 276.2 L159.0 276.2 L157.5 277.8 L156.0 278.6 L154.5 279.1 L153.0 279.3 L151.5 279.3 L150.0 279.4 L148.4 279.4 L146.9 279.4 L145.4 279.4 L143.9 279.4 L142.4 279.4 L140.9 279.4 L139.4 279.4 L137.9 279.4 L136.4 279.3 L134.9 279.0 L133.4 278.7 L131.9 278.2 L130.3 277.9 L128.8 277.9 L127.3 278.2 L125.8 278.4 L124.3 278.3 L122.8 277.7 L121.3 276.2Z" fill="#0a0a0a" opacity="1" filter="url(#b1)"/>
<path d="M165.7 276.2 L167.2 274.7 L168.8 273.9 L170.3 273.5 L171.8 273.4 L173.3 273.5 L174.9 273.6 L176.4 273.8 L177.9 274.1 L179.4 274.5 L181.0 274.8 L182.5 275.0 L184.0 275.0 L185.5 274.8 L187.1 274.5 L188.6 274.1 L190.1 273.8 L191.6 273.6 L193.2 273.5 L194.7 273.4 L196.2 273.5 L197.7 273.9 L199.3 274.7 L200.8 276.2 L200.8 276.2 L199.3 277.8 L197.7 278.7 L196.2 279.1 L194.7 279.3 L193.2 279.3 L191.6 279.2 L190.1 279.1 L188.6 278.8 L187.1 278.5 L185.5 278.2 L184.0 278.0 L182.5 278.0 L181.0 278.2 L179.4 278.5 L177.9 278.8 L176.4 279.1 L174.9 279.2 L173.3 279.3 L171.8 279.3 L170.3 279.1 L168.8 278.7 L167.2 277.8 L165.7 276.2Z" fill="none" stroke="#000" stroke-width="5.3" stroke-linejoin="round" opacity="0.13" filter="url(#b2)"/>
<path d="M165.7 276.2 L167.2 274.7 L168.8 273.9 L170.3 273.5 L171.8 273.4 L173.3 273.5 L174.9 273.6 L176.4 273.8 L177.9 274.1 L179.4 274.5 L181.0 274.8 L182.5 275.0 L184.0 275.0 L185.5 274.8 L187.1 274.5 L188.6 274.1 L190.1 273.8 L191.6 273.6 L193.2 273.5 L194.7 273.4 L196.2 273.5 L197.7 273.9 L199.3 274.7 L200.8 276.2 L200.8 276.2 L199.3 277.8 L197.7 278.7 L196.2 279.1 L194.7 279.3 L193.2 279.3 L191.6 279.2 L190.1 279.1 L188.6 278.8 L187.1 278.5 L185.5 278.2 L184.0 278.0 L182.5 278.0 L181.0 278.2 L179.4 278.5 L177.9 278.8 L176.4 279.1 L174.9 279.2 L173.3 279.3 L171.8 279.3 L170.3 279.1 L168.8 278.7 L167.2 277.8 L165.7 276.2Z" fill="#0a0a0a" opacity="1" filter="url(#b1)"/>
<path d="M208.3 276.2 L209.8 274.7 L211.3 274.0 L212.9 273.6 L214.4 273.5 L215.9 273.7 L217.4 273.8 L218.9 274.0 L220.4 274.2 L222.0 274.4 L223.5 274.4 L225.0 274.4 L226.5 274.2 L228.0 274.0 L229.6 273.8 L231.1 273.7 L232.6 273.6 L234.1 273.5 L235.6 273.4 L237.1 273.5 L238.7 273.9 L240.2 274.7 L241.7 276.2 L241.7 276.2 L240.2 277.8 L238.7 278.7 L237.1 279.1 L235.6 279.3 L234.1 279.3 L232.6 279.3 L231.1 279.2 L229.6 279.1 L228.0 279.0 L226.5 278.8 L225.0 278.6 L223.5 278.6 L222.0 278.6 L220.4 278.7 L218.9 278.9 L217.4 279.1 L215.9 279.2 L214.4 279.2 L212.9 279.1 L211.3 278.6 L209.8 277.8 L208.3 276.2Z" fill="none" stroke="#000" stroke-width="5.3" stroke-linejoin="round" opacity="0.13" filter="url(#b2)"/>
<path d="M208.3 276.2 L209.8 274.7 L211.3 274.0 L212.9 273.6 L214.4 273.5 L215.9 273.7 L217.4 273.8 L218.9 274.0 L220.4 274.2 L222.0 274.4 L223.5 274.4 L225.0 274.4 L226.5 274.2 L228.0 274.0 L229.6 273.8 L231.1 273.7 L232.6 273.6 L234.1 273.5 L235.6 273.4 L237.1 273.5 L238.7 273.9 L240.2 274.7 L241.7 276.2 L241.7 276.2 L240.2 277.8 L238.7 278.7 L237.1 279.1 L235.6 279.3 L234.1 279.3 L232.6 279.3 L231.1 279.2 L229.6 279.1 L228.0 279.0 L226.5 278.8 L225.0 278.6 L223.5 278.6 L222.0 278.6 L220.4 278.7 L218.9 278.9 L217.4 279.1 L215.9 279.2 L214.4 279.2 L212.9 279.1 L211.3 278.6 L209.8 277.8 L208.3 276.2Z" fill="#0a0a0a" opacity="1" filter="url(#b1)"/>
<path d="M251.0 276.2 L252.6 274.7 L254.1 273.9 L255.7 273.5 L257.2 273.4 L258.8 273.5 L260.3 273.5 L261.9 273.5 L263.4 273.6 L264.9 273.7 L266.5 273.9 L268.1 274.2 L269.6 274.5 L271.2 274.8 L272.7 274.8 L274.2 274.6 L275.8 274.2 L277.4 273.9 L278.9 273.6 L280.5 273.6 L282.0 273.9 L283.6 274.7 L285.1 276.2 L285.1 276.2 L283.6 277.8 L282.0 278.7 L280.5 279.1 L278.9 279.1 L277.4 279.0 L275.8 278.7 L274.2 278.3 L272.7 278.1 L271.2 278.2 L269.6 278.4 L268.1 278.8 L266.5 279.1 L264.9 279.3 L263.4 279.4 L261.9 279.4 L260.3 279.4 L258.8 279.4 L257.2 279.3 L255.7 279.2 L254.1 278.7 L252.6 277.8 L251.0 276.2Z" fill="none" stroke="#000" stroke-width="5.3" stroke-linejoin="round" opacity="0.13" filter="url(#b2)"/>
<path d="M251.0 276.2 L252.6 274.7 L254.1 273.9 L255.7 273.5 L257.2 273.4 L258.8 273.5 L260.3 273.5 L261.9 273.5 L263.4 273.6 L264.9 273.7 L266.5 273.9 L268.1 274.2 L269.6 274.5 L271.2 274.8 L272.7 274.8 L274.2 274.6 L275.8 274.2 L277.4 273.9 L278.9 273.6 L280.5 273.6 L282.0 273.9 L283.6 274.7 L285.1 276.2 L285.1 276.2 L283.6 277.8 L282.0 278.7 L280.5 279.1 L278.9 279.1 L277.4 279.0 L275.8 278.7 L274.2 278.3 L272.7 278.1 L271.2 278.2 L269.6 278.4 L268.1 278.8 L266.5 279.1 L264.9 279.3 L263.4 279.4 L261.9 279.4 L260.3 279.4 L258.8 279.4 L257.2 279.3 L255.7 279.2 L254.1 278.7 L252.6 277.8 L251.0 276.2Z" fill="#0a0a0a" opacity="1" filter="url(#b1)"/>
<path d="M292.7 276.2 L294.2 274.7 L295.8 273.9 L297.3 273.5 L298.8 273.5 L300.3 273.7 L301.9 273.9 L303.4 274.2 L304.9 274.6 L306.4 274.8 L308.0 274.9 L309.5 274.7 L311.0 274.4 L312.5 274.1 L314.1 273.8 L315.6 273.6 L317.1 273.5 L318.6 273.5 L320.2 273.5 L321.7 273.4 L323.2 273.5 L324.7 273.9 L326.3 274.7 L327.8 276.2 L327.8 276.2 L326.3 277.8 L324.7 278.7 L323.2 279.2 L321.7 279.3 L320.2 279.4 L318.6 279.4 L317.1 279.4 L315.6 279.3 L314.1 279.2 L312.5 278.9 L311.0 278.6 L309.5 278.3 L308.0 278.1 L306.4 278.2 L304.9 278.4 L303.4 278.7 L301.9 279.0 L300.3 279.1 L298.8 279.2 L297.3 279.1 L295.8 278.7 L294.2 277.8 L292.7 276.2Z" fill="none" stroke="#000" stroke-width="5.3" stroke-linejoin="round" opacity="0.13" filter="url(#b2)"/>
<path d="M292.7 276.2 L294.2 274.7 L295.8 273.9 L297.3 273.5 L298.8 273.5 L300.3 273.7 L301.9 273.9 L303.4 274.2 L304.9 274.6 L306.4 274.8 L308.0 274.9 L309.5 274.7 L311.0 274.4 L312.5 274.1 L314.1 273.8 L315.6 273.6 L317.1 273.5 L318.6 273.5 L320.2 273.5 L321.7 273.4 L323.2 273.5 L324.7 273.9 L326.3 274.7 L327.8 276.2 L327.8 276.2 L326.3 277.8 L324.7 278.7 L323.2 279.2 L321.7 279.3 L320.2 279.4 L318.6 279.4 L317.1 279.4 L315.6 279.3 L314.1 279.2 L312.5 278.9 L311.0 278.6 L309.5 278.3 L308.0 278.1 L306.4 278.2 L304.9 278.4 L303.4 278.7 L301.9 279.0 L300.3 279.1 L298.8 279.2 L297.3 279.1 L295.8 278.7 L294.2 277.8 L292.7 276.2Z" fill="#0a0a0a" opacity="1" filter="url(#b1)"/>
<path d="M334.8 276.2 L336.3 274.7 L337.9 273.9 L339.4 273.5 L341.0 273.5 L342.5 273.5 L344.1 273.7 L345.6 273.9 L347.2 274.2 L348.7 274.5 L350.3 274.8 L351.8 274.9 L353.4 274.8 L354.9 274.5 L356.5 274.2 L358.0 273.9 L359.6 273.7 L361.1 273.6 L362.7 273.5 L364.2 273.4 L365.8 273.5 L367.3 273.9 L368.9 274.7 L370.4 276.2 L370.4 276.2 L368.9 277.8 L367.3 278.7 L365.8 279.2 L364.2 279.3 L362.7 279.3 L361.1 279.3 L359.6 279.2 L358.0 279.0 L356.5 278.7 L354.9 278.4 L353.4 278.2 L351.8 278.1 L350.3 278.2 L348.7 278.5 L347.2 278.8 L345.6 279.0 L344.1 279.2 L342.5 279.3 L341.0 279.3 L339.4 279.2 L337.9 278.7 L336.3 277.8 L334.8 276.2Z" fill="none" stroke="#000" stroke-width="5.3" stroke-linejoin="round" opacity="0.13" filter="url(#b2)"/>
<path d="M334.8 276.2 L336.3 274.7 L337.9 273.9 L339.4 273.5 L341.0 273.5 L342.5 273.5 L344.1 273.7 L345.6 273.9 L347.2 274.2 L348.7 274.5 L350.3 274.8 L351.8 274.9 L353.4 274.8 L354.9 274.5 L356.5 274.2 L358.0 273.9 L359.6 273.7 L361.1 273.6 L362.7 273.5 L364.2 273.4 L365.8 273.5 L367.3 273.9 L368.9 274.7 L370.4 276.2 L370.4 276.2 L368.9 277.8 L367.3 278.7 L365.8 279.2 L364.2 279.3 L362.7 279.3 L361.1 279.3 L359.6 279.2 L358.0 279.0 L356.5 278.7 L354.9 278.4 L353.4 278.2 L351.8 278.1 L350.3 278.2 L348.7 278.5 L347.2 278.8 L345.6 279.0 L344.1 279.2 L342.5 279.3 L341.0 279.3 L339.4 279.2 L337.9 278.7 L336.3 277.8 L334.8 276.2Z" fill="#0a0a0a" opacity="1" filter="url(#b1)"/>
<ellipse cx="124.6" cy="275.6" rx="2.6" ry="2.3" fill="#000" opacity="0.9" filter="url(#b1)"/>
<rect x="112.55" y="262.7" width="264.8" height="38.0" fill="none" stroke="#484848" stroke-width="1.15" rx="0.8"/>
<rect x="110.8" y="319.6" width="264.6" height="37.5" fill="#f5f5f5"/>
<rect x="110.8" y="319.6" width="264.6" height="37.5" fill="#fff" filter="url(#noise)" opacity="0.5"/>
<path d="M119.5 339.2 L121.1 337.9 L122.6 337.0 L124.2 336.4 L125.7 336.0 L127.3 335.7 L128.8 335.6 L130.4 335.5 L131.9 335.5 L133.5 335.4 L135.0 335.4 L136.6 335.4 L138.1 335.4 L139.7 335.4 L141.2 335.4 L142.8 335.5 L144.3 335.5 L145.9 335.6 L147.4 335.7 L149.0 336.0 L150.5 336.4 L152.1 337.0 L153.6 337.9 L155.2 339.2 L155.2 339.2 L153.6 340.3 L152.1 340.9 L150.5 341.3 L149.0 341.5 L147.4 341.6 L145.9 341.6 L144.3 341.5 L142.8 341.5 L141.2 341.4 L139.7 341.4 L138.1 341.4 L136.6 341.4 L135.0 341.4 L133.5 341.4 L131.9 341.5 L130.4 341.5 L128.8 341.6 L127.3 341.6 L125.7 341.5 L124.2 341.3 L122.6 340.9 L121.1 340.3 L119.5 339.2Z" fill="none" stroke="#000" stroke-width="5.4" stroke-linejoin="round" opacity="0.13" filter="url(#b2)"/>
<path d="M119.5 339.2 L121.1 337.9 L122.6 337.0 L124.2 336.4 L125.7 336.0 L127.3 335.7 L128.8 335.6 L130.4 335.5 L131.9 335.5 L133.5 335.4 L135.0 335.4 L136.6 335.4 L138.1 335.4 L139.7 335.4 L141.2 335.4 L142.8 335.5 L144.3 335.5 L145.9 335.6 L147.4 335.7 L149.0 336.0 L150.5 336.4 L152.1 337.0 L153.6 337.9 L155.2 339.2 L155.2 339.2 L153.6 340.3 L152.1 340.9 L150.5 341.3 L149.0 341.5 L147.4 341.6 L145.9 341.6 L144.3 341.5 L142.8 341.5 L141.2 341.4 L139.7 341.4 L138.1 341.4 L136.6 341.4 L135.0 341.4 L133.5 341.4 L131.9 341.5 L130.4 341.5 L128.8 341.6 L127.3 341.6 L125.7 341.5 L124.2 341.3 L122.6 340.9 L121.1 340.3 L119.5 339.2Z" fill="#0a0a0a" opacity="1" filter="url(#b1)"/>
<path d="M164.2 340.0 L165.8 338.8 L167.3 338.0 L168.8 337.5 L170.4 337.1 L171.9 336.8 L173.5 336.7 L175.0 336.7 L176.6 336.6 L178.2 336.6 L179.7 336.6 L181.2 336.6 L182.8 336.6 L184.3 336.6 L185.9 336.6 L187.4 336.7 L189.0 336.7 L190.6 336.8 L192.1 337.1 L193.7 337.5 L195.2 338.0 L196.8 338.8 L198.3 340.0 L198.3 340.0 L196.8 341.0 L195.2 341.6 L193.7 342.0 L192.1 342.2 L190.6 342.3 L189.0 342.3 L187.4 342.3 L185.9 342.2 L184.3 342.2 L182.8 342.2 L181.2 342.2 L179.7 342.2 L178.2 342.2 L176.6 342.2 L175.0 342.3 L173.5 342.3 L171.9 342.3 L170.4 342.2 L168.8 342.0 L167.3 341.6 L165.8 341.0 L164.2 340.0Z" fill="none" stroke="#000" stroke-width="5.0" stroke-linejoin="round" opacity="0.13" filter="url(#b2)"/>
<path d="M164.2 340.0 L165.8 338.8 L167.3 338.0 L168.8 337.5 L170.4 337.1 L171.9 336.8 L173.5 336.7 L175.0 336.7 L176.6 336.6 L178.2 336.6 L179.7 336.6 L181.2 336.6 L182.8 336.6 L184.3 336.6 L185.9 336.6 L187.4 336.7 L189.0 336.7 L190.6 336.8 L192.1 337.1 L193.7 337.5 L195.2 338.0 L196.8 338.8 L198.3 340.0 L198.3 340.0 L196.8 341.0 L195.2 341.6 L193.7 342.0 L192.1 342.2 L190.6 342.3 L189.0 342.3 L187.4 342.3 L185.9 342.2 L184.3 342.2 L182.8 342.2 L181.2 342.2 L179.7 342.2 L178.2 342.2 L176.6 342.2 L175.0 342.3 L173.5 342.3 L171.9 342.3 L170.4 342.2 L168.8 342.0 L167.3 341.6 L165.8 341.0 L164.2 340.0Z" fill="#0a0a0a" opacity="1" filter="url(#b1)"/>
<path d="M206.8 339.0 L208.3 337.7 L209.9 336.9 L211.4 336.4 L213.0 336.1 L214.5 335.9 L216.0 335.9 L217.6 335.9 L219.1 335.9 L220.7 335.9 L222.2 335.9 L223.7 335.9 L225.3 335.9 L226.8 335.9 L228.3 335.9 L229.9 335.9 L231.4 335.9 L233.0 335.9 L234.5 335.9 L236.0 336.1 L237.6 336.4 L239.1 336.9 L240.7 337.7 L242.2 339.0 L242.2 339.0 L240.7 340.4 L239.1 341.3 L237.6 342.0 L236.0 342.4 L234.5 342.7 L233.0 342.8 L231.4 342.8 L229.9 342.8 L228.3 342.8 L226.8 342.8 L225.3 342.8 L223.7 342.8 L222.2 342.8 L220.7 342.8 L219.1 342.8 L217.6 342.8 L216.0 342.8 L214.5 342.7 L213.0 342.4 L211.4 342.0 L209.9 341.3 L208.3 340.4 L206.8 339.0Z" fill="none" stroke="#000" stroke-width="6.2" stroke-linejoin="round" opacity="0.13" filter="url(#b2)"/>
<path d="M206.8 339.0 L208.3 337.7 L209.9 336.9 L211.4 336.4 L213.0 336.1 L214.5 335.9 L216.0 335.9 L217.6 335.9 L219.1 335.9 L220.7 335.9 L222.2 335.9 L223.7 335.9 L225.3 335.9 L226.8 335.9 L228.3 335.9 L229.9 335.9 L231.4 335.9 L233.0 335.9 L234.5 335.9 L236.0 336.1 L237.6 336.4 L239.1 336.9 L240.7 337.7 L242.2 339.0 L242.2 339.0 L240.7 340.4 L239.1 341.3 L237.6 342.0 L236.0 342.4 L234.5 342.7 L233.0 342.8 L231.4 342.8 L229.9 342.8 L228.3 342.8 L226.8 342.8 L225.3 342.8 L223.7 342.8 L222.2 342.8 L220.7 342.8 L219.1 342.8 L217.6 342.8 L216.0 342.8 L214.5 342.7 L213.0 342.4 L211.4 342.0 L209.9 341.3 L208.3 340.4 L206.8 339.0Z" fill="#0a0a0a" opacity="1" filter="url(#b1)"/>
<path d="M250.8 339.0 L252.3 337.8 L253.8 337.1 L255.3 336.7 L256.9 336.4 L258.4 336.2 L259.9 336.2 L261.4 336.3 L262.9 336.3 L264.4 336.3 L265.9 336.3 L267.4 336.3 L269.0 336.3 L270.5 336.3 L272.0 336.3 L273.5 336.3 L275.0 336.3 L276.5 336.2 L278.0 336.2 L279.5 336.4 L281.1 336.7 L282.6 337.1 L284.1 337.8 L285.6 339.0 L285.6 339.0 L284.1 340.4 L282.6 341.2 L281.1 341.9 L279.5 342.3 L278.0 342.6 L276.5 342.7 L275.0 342.8 L273.5 342.8 L272.0 342.8 L270.5 342.8 L269.0 342.8 L267.4 342.8 L265.9 342.8 L264.4 342.8 L262.9 342.8 L261.4 342.8 L259.9 342.7 L258.4 342.6 L256.9 342.3 L255.3 341.9 L253.8 341.2 L252.3 340.4 L250.8 339.0Z" fill="none" stroke="#000" stroke-width="5.9" stroke-linejoin="round" opacity="0.13" filter="url(#b2)"/>
<path d="M250.8 339.0 L252.3 337.8 L253.8 337.1 L255.3 336.7 L256.9 336.4 L258.4 336.2 L259.9 336.2 L261.4 336.3 L262.9 336.3 L264.4 336.3 L265.9 336.3 L267.4 336.3 L269.0 336.3 L270.5 336.3 L272.0 336.3 L273.5 336.3 L275.0 336.3 L276.5 336.2 L278.0 336.2 L279.5 336.4 L281.1 336.7 L282.6 337.1 L284.1 337.8 L285.6 339.0 L285.6 339.0 L284.1 340.4 L282.6 341.2 L281.1 341.9 L279.5 342.3 L278.0 342.6 L276.5 342.7 L275.0 342.8 L273.5 342.8 L272.0 342.8 L270.5 342.8 L269.0 342.8 L267.4 342.8 L265.9 342.8 L264.4 342.8 L262.9 342.8 L261.4 342.8 L259.9 342.7 L258.4 342.6 L256.9 342.3 L255.3 341.9 L253.8 341.2 L252.3 340.4 L250.8 339.0Z" fill="#0a0a0a" opacity="1" filter="url(#b1)"/>
<path d="M294.7 339.3 L296.2 338.5 L297.7 338.0 L299.2 337.7 L300.7 337.5 L302.2 337.4 L303.7 337.4 L305.2 337.5 L306.7 337.5 L308.2 337.6 L309.7 337.6 L311.2 337.6 L312.8 337.6 L314.3 337.6 L315.8 337.5 L317.3 337.5 L318.8 337.4 L320.3 337.4 L321.8 337.5 L323.3 337.7 L324.8 338.0 L326.3 338.5 L327.8 339.3 L327.8 339.3 L326.3 340.4 L324.8 341.1 L323.3 341.7 L321.8 342.1 L320.3 342.3 L318.8 342.4 L317.3 342.5 L315.8 342.5 L314.3 342.6 L312.8 342.6 L311.2 342.6 L309.7 342.6 L308.2 342.6 L306.7 342.5 L305.2 342.5 L303.7 342.4 L302.2 342.3 L300.7 342.1 L299.2 341.7 L297.7 341.1 L296.2 340.4 L294.7 339.3Z" fill="none" stroke="#000" stroke-width="4.5" stroke-linejoin="round" opacity="0.13" filter="url(#b2)"/>
<path d="M294.7 339.3 L296.2 338.5 L297.7 338.0 L299.2 337.7 L300.7 337.5 L302.2 337.4 L303.7 337.4 L305.2 337.5 L306.7 337.5 L308.2 337.6 L309.7 337.6 L311.2 337.6 L312.8 337.6 L314.3 337.6 L315.8 337.5 L317.3 337.5 L318.8 337.4 L320.3 337.4 L321.8 337.5 L323.3 337.7 L324.8 338.0 L326.3 338.5 L327.8 339.3 L327.8 339.3 L326.3 340.4 L324.8 341.1 L323.3 341.7 L321.8 342.1 L320.3 342.3 L318.8 342.4 L317.3 342.5 L315.8 342.5 L314.3 342.6 L312.8 342.6 L311.2 342.6 L309.7 342.6 L308.2 342.6 L306.7 342.5 L305.2 342.5 L303.7 342.4 L302.2 342.3 L300.7 342.1 L299.2 341.7 L297.7 341.1 L296.2 340.4 L294.7 339.3Z" fill="#0a0a0a" opacity="1" filter="url(#b1)"/>
<path d="M338.1 340.2 L339.6 339.6 L341.1 339.3 L342.6 339.1 L344.1 339.1 L345.6 339.1 L347.1 339.2 L348.6 339.4 L350.1 339.5 L351.6 339.6 L353.1 339.7 L354.6 339.7 L356.1 339.7 L357.6 339.7 L359.1 339.6 L360.6 339.5 L362.1 339.4 L363.6 339.2 L365.1 339.1 L366.6 339.1 L368.1 339.1 L369.6 339.3 L371.1 339.6 L372.6 340.2 L372.6 340.2 L371.1 341.5 L369.6 342.4 L368.1 343.1 L366.6 343.6 L365.1 344.0 L363.6 344.2 L362.1 344.4 L360.6 344.5 L359.1 344.6 L357.6 344.7 L356.1 344.7 L354.6 344.7 L353.1 344.7 L351.6 344.6 L350.1 344.5 L348.6 344.4 L347.1 344.2 L345.6 344.0 L344.1 343.6 L342.6 343.1 L341.1 342.4 L339.6 341.5 L338.1 340.2Z" fill="none" stroke="#000" stroke-width="4.5" stroke-linejoin="round" opacity="0.13" filter="url(#b2)"/>
<path d="M338.1 340.2 L339.6 339.6 L341.1 339.3 L342.6 339.1 L344.1 339.1 L345.6 339.1 L347.1 339.2 L348.6 339.4 L350.1 339.5 L351.6 339.6 L353.1 339.7 L354.6 339.7 L356.1 339.7 L357.6 339.7 L359.1 339.6 L360.6 339.5 L362.1 339.4 L363.6 339.2 L365.1 339.1 L366.6 339.1 L368.1 339.1 L369.6 339.3 L371.1 339.6 L372.6 340.2 L372.6 340.2 L371.1 341.5 L369.6 342.4 L368.1 343.1 L366.6 343.6 L365.1 344.0 L363.6 344.2 L362.1 344.4 L360.6 344.5 L359.1 344.6 L357.6 344.7 L356.1 344.7 L354.6 344.7 L353.1 344.7 L351.6 344.6 L350.1 344.5 L348.6 344.4 L347.1 344.2 L345.6 344.0 L344.1 343.6 L342.6 343.1 L341.1 342.4 L339.6 341.5 L338.1 340.2Z" fill="#0a0a0a" opacity="1" filter="url(#b1)"/>
<rect x="110.8" y="319.6" width="264.6" height="37.5" fill="none" stroke="#484848" stroke-width="1.15" rx="0.8"/>
<text x="47.6" y="232.1" font-family="Liberation Serif, serif" font-size="16.7" font-weight="normal" textLength="56.5" lengthAdjust="spacingAndGlyphs" fill="#111">PAMPK</text>
<text x="49.4" y="283.5" font-family="Liberation Serif, serif" font-size="16.7" font-weight="normal" textLength="47.9" lengthAdjust="spacingAndGlyphs" fill="#111">AMPK</text>
<text x="53.9" y="344.4" font-family="Liberation Serif, serif" font-size="16.7" font-weight="normal" textLength="46.4" lengthAdjust="spacingAndGlyphs" fill="#111">β-actin</text>
<text x="69" y="381.5" font-family="Liberation Serif, serif" font-size="16.7" font-weight="normal" textLength="38.3" lengthAdjust="spacingAndGlyphs" fill="#111">D-gal</text>
<text x="44.6" y="401.3" font-family="Liberation Serif, serif" font-size="16.7" font-weight="normal" textLength="63.7" lengthAdjust="spacingAndGlyphs" fill="#111">Calcitriol</text>
<text x="31.3" y="428.1" font-family="Liberation Serif, serif" font-size="16.7" font-weight="normal" textLength="86.1" lengthAdjust="spacingAndGlyphs" fill="#111">RPPSFF/μM</text>
<text x="132.4" y="381.8" font-family="Liberation Serif, serif" font-size="16.7" font-weight="normal" text-anchor="middle" fill="#111">-</text>
<text x="173.6" y="381.6" font-family="Liberation Serif, serif" font-size="18.4" font-weight="normal" text-anchor="middle" fill="#222">+</text>
<text x="217.5" y="381.6" font-family="Liberation Serif, serif" font-size="18.4" font-weight="normal" text-anchor="middle" fill="#222">+</text>
<text x="261.3" y="381.6" font-family="Liberation Serif, serif" font-size="18.4" font-weight="normal" text-anchor="middle" fill="#222">+</text>
<text x="305.2" y="381.6" font-family="Liberation Serif, serif" font-size="18.4" font-weight="normal" text-anchor="middle" fill="#222">+</text>
<text x="349.1" y="381.6" font-family="Liberation Serif, serif" font-size="18.4" font-weight="normal" text-anchor="middle" fill="#222">+</text>
<text x="133.4" y="401.6" font-family="Liberation Serif, serif" font-size="16.7" font-weight="normal" text-anchor="middle" fill="#111">-</text>
<text x="173.2" y="401.6" font-family="Liberation Serif, serif" font-size="16.7" font-weight="normal" text-anchor="middle" fill="#111">-</text>
<text x="218.7" y="401.4" font-family="Liberation Serif, serif" font-size="18.4" font-weight="normal" text-anchor="middle" fill="#222">+</text>
<text x="261.3" y="401.6" font-family="Liberation Serif, serif" font-size="16.7" font-weight="normal" text-anchor="middle" fill="#111">-</text>
<text x="305.2" y="401.6" font-family="Liberation Serif, serif" font-size="16.7" font-weight="normal" text-anchor="middle" fill="#111">-</text>
<text x="349.6" y="401.6" font-family="Liberation Serif, serif" font-size="16.7" font-weight="normal" text-anchor="middle" fill="#111">-</text>
<text x="135.1" y="428.4" font-family="Liberation Serif, serif" font-size="16.7" font-weight="normal" text-anchor="middle" fill="#111">-</text>
<text x="174.5" y="428.4" font-family="Liberation Serif, serif" font-size="16.7" font-weight="normal" text-anchor="middle" fill="#111">-</text>
<text x="218.6" y="428.4" font-family="Liberation Serif, serif" font-size="16.7" font-weight="normal" text-anchor="middle" fill="#111">-</text>
<text x="251.8" y="427.9" font-family="Liberation Serif, serif" font-size="16.7" font-weight="normal" textLength="16.5" lengthAdjust="spacingAndGlyphs" fill="#111">20</text>
<text x="298.4" y="427.9" font-family="Liberation Serif, serif" font-size="16.7" font-weight="normal" textLength="16.3" lengthAdjust="spacingAndGlyphs" fill="#111">40</text>
<text x="346.1" y="427.9" font-family="Liberation Serif, serif" font-size="16.7" font-weight="normal" textLength="16.3" lengthAdjust="spacingAndGlyphs" fill="#111">80</text>
<rect x="107.2" y="454.1" width="264.3" height="37.8" fill="#f1f1f1"/>
<rect x="107.2" y="454.1" width="264.3" height="37.8" fill="#fff" filter="url(#noise)" opacity="0.5"/>
<path d="M116.7 468.6 L118.2 467.9 L119.7 467.7 L121.3 467.6 L122.8 467.6 L124.3 467.6 L125.8 467.6 L127.3 467.7 L128.9 467.8 L130.4 467.8 L131.9 467.8 L133.4 467.8 L134.9 467.8 L136.5 467.7 L138.0 467.7 L139.5 467.6 L141.0 467.4 L142.6 467.3 L144.1 467.1 L145.6 467.0 L147.1 466.9 L148.6 466.8 L150.2 466.9 L151.7 467.0 L153.2 467.6 L153.2 467.6 L151.7 468.9 L150.2 469.7 L148.6 470.3 L147.1 470.7 L145.6 471.1 L144.1 471.4 L142.6 471.7 L141.0 471.8 L139.5 472.0 L138.0 472.1 L136.5 472.1 L134.9 472.2 L133.4 472.2 L131.9 472.2 L130.4 472.2 L128.9 472.2 L127.3 472.1 L125.8 471.9 L124.3 471.7 L122.8 471.4 L121.3 471.0 L119.7 470.5 L118.2 469.8 L116.7 468.6Z" fill="none" stroke="#000" stroke-width="4.0" stroke-linejoin="round" opacity="0.13" filter="url(#b2)"/>
<path d="M116.7 468.6 L118.2 467.9 L119.7 467.7 L121.3 467.6 L122.8 467.6 L124.3 467.6 L125.8 467.6 L127.3 467.7 L128.9 467.8 L130.4 467.8 L131.9 467.8 L133.4 467.8 L134.9 467.8 L136.5 467.7 L138.0 467.7 L139.5 467.6 L141.0 467.4 L142.6 467.3 L144.1 467.1 L145.6 467.0 L147.1 466.9 L148.6 466.8 L150.2 466.9 L151.7 467.0 L153.2 467.6 L153.2 467.6 L151.7 468.9 L150.2 469.7 L148.6 470.3 L147.1 470.7 L145.6 471.1 L144.1 471.4 L142.6 471.7 L141.0 471.8 L139.5 472.0 L138.0 472.1 L136.5 472.1 L134.9 472.2 L133.4 472.2 L131.9 472.2 L130.4 472.2 L128.9 472.2 L127.3 472.1 L125.8 471.9 L124.3 471.7 L122.8 471.4 L121.3 471.0 L119.7 470.5 L118.2 469.8 L116.7 468.6Z" fill="#0a0a0a" opacity="1" filter="url(#b1)"/>
<path d="M118.7 478.8 L120.2 478.6 L121.8 478.6 L123.3 478.7 L124.9 478.8 L126.4 478.9 L128.0 479.1 L129.5 479.2 L131.1 479.3 L132.6 479.3 L134.2 479.3 L135.7 479.3 L137.3 479.2 L138.8 479.1 L140.4 478.9 L141.9 478.7 L143.5 478.4 L145.0 478.2 L146.6 478.0 L148.1 477.8 L149.7 477.7 L151.2 477.8 L151.2 477.8 L149.7 478.8 L148.1 479.6 L146.6 480.2 L145.0 480.7 L143.5 481.0 L141.9 481.3 L140.4 481.5 L138.8 481.7 L137.3 481.8 L135.7 481.9 L134.2 481.9 L132.6 481.9 L131.1 481.9 L129.5 481.8 L128.0 481.7 L126.4 481.5 L124.9 481.3 L123.3 480.9 L121.8 480.4 L120.2 479.7 L118.7 478.8Z" fill="#0a0a0a" opacity="0.13" filter="url(#b5)"/>
<ellipse cx="134.95" cy="487.5" rx="15" ry="3" fill="#000" opacity="0.0585" filter="url(#b2)"/>
<path d="M157.8 467.6 L159.3 467.3 L160.9 467.2 L162.4 467.3 L163.9 467.3 L165.4 467.4 L167.0 467.5 L168.5 467.6 L170.0 467.6 L171.6 467.7 L173.1 467.7 L174.6 467.6 L176.1 467.6 L177.7 467.5 L179.2 467.4 L180.7 467.2 L182.2 467.0 L183.8 466.8 L185.3 466.6 L186.8 466.3 L188.4 466.1 L189.9 465.8 L191.4 465.6 L192.9 465.4 L194.5 465.2 L196.0 465.4 L196.0 465.4 L194.5 466.5 L192.9 467.2 L191.4 467.8 L189.9 468.4 L188.4 468.8 L186.8 469.2 L185.3 469.5 L183.8 469.7 L182.2 469.9 L180.7 470.1 L179.2 470.3 L177.7 470.4 L176.1 470.5 L174.6 470.5 L173.1 470.6 L171.6 470.6 L170.0 470.5 L168.5 470.4 L167.0 470.3 L165.4 470.1 L163.9 469.9 L162.4 469.5 L160.9 469.1 L159.3 468.5 L157.8 467.6Z" fill="none" stroke="#000" stroke-width="2.6" stroke-linejoin="round" opacity="0.13" filter="url(#b2)"/>
<path d="M157.8 467.6 L159.3 467.3 L160.9 467.2 L162.4 467.3 L163.9 467.3 L165.4 467.4 L167.0 467.5 L168.5 467.6 L170.0 467.6 L171.6 467.7 L173.1 467.7 L174.6 467.6 L176.1 467.6 L177.7 467.5 L179.2 467.4 L180.7 467.2 L182.2 467.0 L183.8 466.8 L185.3 466.6 L186.8 466.3 L188.4 466.1 L189.9 465.8 L191.4 465.6 L192.9 465.4 L194.5 465.2 L196.0 465.4 L196.0 465.4 L194.5 466.5 L192.9 467.2 L191.4 467.8 L189.9 468.4 L188.4 468.8 L186.8 469.2 L185.3 469.5 L183.8 469.7 L182.2 469.9 L180.7 470.1 L179.2 470.3 L177.7 470.4 L176.1 470.5 L174.6 470.5 L173.1 470.6 L171.6 470.6 L170.0 470.5 L168.5 470.4 L167.0 470.3 L165.4 470.1 L163.9 469.9 L162.4 469.5 L160.9 469.1 L159.3 468.5 L157.8 467.6Z" fill="#0a0a0a" opacity="0.85" filter="url(#b1)"/>
<path d="M159.8 477.8 L161.4 477.6 L162.9 477.7 L164.5 477.8 L166.0 477.9 L167.6 478.0 L169.1 478.2 L170.7 478.3 L172.2 478.4 L173.8 478.4 L175.3 478.4 L176.9 478.3 L178.5 478.2 L180.0 478.0 L181.6 477.8 L183.1 477.5 L184.7 477.2 L186.2 476.8 L187.8 476.5 L189.3 476.2 L190.9 475.9 L192.4 475.6 L194.0 475.6 L194.0 475.6 L192.4 476.8 L190.9 477.7 L189.3 478.4 L187.8 479.0 L186.2 479.4 L184.7 479.8 L183.1 480.1 L181.6 480.4 L180.0 480.6 L178.5 480.8 L176.9 480.9 L175.3 481.0 L173.8 481.0 L172.2 481.0 L170.7 480.9 L169.1 480.8 L167.6 480.6 L166.0 480.4 L164.5 480.0 L162.9 479.5 L161.4 478.8 L159.8 477.8Z" fill="#0a0a0a" opacity="0.06" filter="url(#b5)"/>
<ellipse cx="176.9" cy="486.5" rx="15" ry="3" fill="#000" opacity="0.027" filter="url(#b2)"/>
<path d="M198.4 465.4 L199.9 465.0 L201.5 464.9 L203.0 464.9 L204.6 465.0 L206.1 465.1 L207.7 465.1 L209.2 465.2 L210.8 465.3 L212.3 465.4 L213.9 465.4 L215.4 465.5 L216.9 465.4 L218.5 465.4 L220.0 465.4 L221.6 465.3 L223.1 465.2 L224.7 465.0 L226.2 464.9 L227.8 464.8 L229.3 464.6 L230.9 464.6 L232.4 464.5 L234.0 464.5 L235.5 464.9 L235.5 464.9 L234.0 465.9 L232.4 466.5 L230.9 467.0 L229.3 467.4 L227.8 467.7 L226.2 467.9 L224.7 468.1 L223.1 468.3 L221.6 468.4 L220.0 468.5 L218.5 468.5 L216.9 468.6 L215.4 468.6 L213.9 468.5 L212.3 468.5 L210.8 468.4 L209.2 468.3 L207.7 468.2 L206.1 468.0 L204.6 467.7 L203.0 467.4 L201.5 466.9 L199.9 466.4 L198.4 465.4Z" fill="none" stroke="#000" stroke-width="2.8" stroke-linejoin="round" opacity="0.13" filter="url(#b2)"/>
<path d="M198.4 465.4 L199.9 465.0 L201.5 464.9 L203.0 464.9 L204.6 465.0 L206.1 465.1 L207.7 465.1 L209.2 465.2 L210.8 465.3 L212.3 465.4 L213.9 465.4 L215.4 465.5 L216.9 465.4 L218.5 465.4 L220.0 465.4 L221.6 465.3 L223.1 465.2 L224.7 465.0 L226.2 464.9 L227.8 464.8 L229.3 464.6 L230.9 464.6 L232.4 464.5 L234.0 464.5 L235.5 464.9 L235.5 464.9 L234.0 465.9 L232.4 466.5 L230.9 467.0 L229.3 467.4 L227.8 467.7 L226.2 467.9 L224.7 468.1 L223.1 468.3 L221.6 468.4 L220.0 468.5 L218.5 468.5 L216.9 468.6 L215.4 468.6 L213.9 468.5 L212.3 468.5 L210.8 468.4 L209.2 468.3 L207.7 468.2 L206.1 468.0 L204.6 467.7 L203.0 467.4 L201.5 466.9 L199.9 466.4 L198.4 465.4Z" fill="#0a0a0a" opacity="0.9" filter="url(#b1)"/>
<path d="M200.4 475.6 L201.9 475.4 L203.4 475.4 L204.9 475.5 L206.4 475.6 L207.9 475.8 L209.4 475.9 L210.9 476.1 L212.4 476.2 L213.9 476.3 L215.4 476.3 L216.9 476.3 L218.5 476.3 L220.0 476.2 L221.5 476.1 L223.0 475.9 L224.5 475.7 L226.0 475.5 L227.5 475.3 L229.0 475.1 L230.5 475.0 L232.0 475.0 L233.5 475.1 L233.5 475.1 L232.0 476.1 L230.5 476.8 L229.0 477.3 L227.5 477.8 L226.0 478.1 L224.5 478.3 L223.0 478.5 L221.5 478.7 L220.0 478.8 L218.5 478.9 L216.9 478.9 L215.4 478.9 L213.9 478.9 L212.4 478.8 L210.9 478.7 L209.4 478.5 L207.9 478.4 L206.4 478.1 L204.9 477.7 L203.4 477.2 L201.9 476.5 L200.4 475.6Z" fill="#0a0a0a" opacity="0.06" filter="url(#b5)"/>
<ellipse cx="216.95" cy="484.5" rx="15" ry="3" fill="#000" opacity="0.027" filter="url(#b2)"/>
<path d="M239.5 464.9 L241.0 464.3 L242.6 464.2 L244.1 464.1 L245.7 464.1 L247.2 464.1 L248.8 464.1 L250.3 464.2 L251.9 464.2 L253.4 464.3 L255.0 464.3 L256.5 464.3 L258.1 464.2 L259.6 464.2 L261.1 464.1 L262.7 464.0 L264.2 463.9 L265.8 463.8 L267.3 463.6 L268.9 463.5 L270.4 463.4 L272.0 463.4 L273.5 463.3 L275.1 463.4 L276.6 463.9 L276.6 463.9 L275.1 465.0 L273.5 465.6 L272.0 466.1 L270.4 466.5 L268.9 466.8 L267.3 467.1 L265.8 467.3 L264.2 467.4 L262.7 467.5 L261.1 467.6 L259.6 467.7 L258.1 467.8 L256.5 467.8 L255.0 467.8 L253.4 467.8 L251.9 467.7 L250.3 467.7 L248.8 467.6 L247.2 467.4 L245.7 467.2 L244.1 466.8 L242.6 466.4 L241.0 465.9 L239.5 464.9Z" fill="none" stroke="#000" stroke-width="3.1" stroke-linejoin="round" opacity="0.13" filter="url(#b2)"/>
<path d="M239.5 464.9 L241.0 464.3 L242.6 464.2 L244.1 464.1 L245.7 464.1 L247.2 464.1 L248.8 464.1 L250.3 464.2 L251.9 464.2 L253.4 464.3 L255.0 464.3 L256.5 464.3 L258.1 464.2 L259.6 464.2 L261.1 464.1 L262.7 464.0 L264.2 463.9 L265.8 463.8 L267.3 463.6 L268.9 463.5 L270.4 463.4 L272.0 463.4 L273.5 463.3 L275.1 463.4 L276.6 463.9 L276.6 463.9 L275.1 465.0 L273.5 465.6 L272.0 466.1 L270.4 466.5 L268.9 466.8 L267.3 467.1 L265.8 467.3 L264.2 467.4 L262.7 467.5 L261.1 467.6 L259.6 467.7 L258.1 467.8 L256.5 467.8 L255.0 467.8 L253.4 467.8 L251.9 467.7 L250.3 467.7 L248.8 467.6 L247.2 467.4 L245.7 467.2 L244.1 466.8 L242.6 466.4 L241.0 465.9 L239.5 464.9Z" fill="#0a0a0a" opacity="0.97" filter="url(#b1)"/>
<path d="M241.5 475.1 L243.0 474.9 L244.5 474.8 L246.0 474.8 L247.5 474.9 L249.0 475.0 L250.5 475.1 L252.0 475.2 L253.5 475.3 L255.0 475.3 L256.5 475.3 L258.1 475.3 L259.6 475.2 L261.1 475.1 L262.6 475.0 L264.1 474.9 L265.6 474.7 L267.1 474.4 L268.6 474.2 L270.1 474.1 L271.6 474.0 L273.1 473.9 L274.6 474.1 L274.6 474.1 L273.1 475.0 L271.6 475.7 L270.1 476.3 L268.6 476.7 L267.1 477.0 L265.6 477.3 L264.1 477.5 L262.6 477.6 L261.1 477.7 L259.6 477.8 L258.1 477.9 L256.5 477.9 L255.0 477.9 L253.5 477.9 L252.0 477.8 L250.5 477.7 L249.0 477.6 L247.5 477.3 L246.0 477.0 L244.5 476.5 L243.0 476.0 L241.5 475.1Z" fill="#0a0a0a" opacity="0.1" filter="url(#b5)"/>
<ellipse cx="258.05" cy="483.5" rx="15" ry="3" fill="#000" opacity="0.045000000000000005" filter="url(#b2)"/>
<path d="M279.0 463.6 L280.5 462.9 L282.0 462.8 L283.5 462.7 L285.0 462.7 L286.6 462.8 L288.1 462.9 L289.6 463.0 L291.1 463.2 L292.6 463.3 L294.1 463.4 L295.6 463.5 L297.1 463.5 L298.7 463.6 L300.2 463.6 L301.7 463.5 L303.2 463.5 L304.7 463.4 L306.2 463.3 L307.7 463.3 L309.2 463.2 L310.8 463.2 L312.3 463.3 L313.8 463.4 L315.3 463.6 L316.8 464.3 L316.8 464.3 L315.3 465.5 L313.8 466.2 L312.3 466.7 L310.8 467.1 L309.2 467.5 L307.7 467.7 L306.2 467.8 L304.7 467.9 L303.2 468.0 L301.7 468.0 L300.2 468.1 L298.7 468.1 L297.1 468.0 L295.6 468.0 L294.1 467.9 L292.6 467.8 L291.1 467.7 L289.6 467.5 L288.1 467.3 L286.6 467.0 L285.0 466.7 L283.5 466.2 L282.0 465.6 L280.5 464.9 L279.0 463.6Z" fill="none" stroke="#000" stroke-width="4.0" stroke-linejoin="round" opacity="0.13" filter="url(#b2)"/>
<path d="M279.0 463.6 L280.5 462.9 L282.0 462.8 L283.5 462.7 L285.0 462.7 L286.6 462.8 L288.1 462.9 L289.6 463.0 L291.1 463.2 L292.6 463.3 L294.1 463.4 L295.6 463.5 L297.1 463.5 L298.7 463.6 L300.2 463.6 L301.7 463.5 L303.2 463.5 L304.7 463.4 L306.2 463.3 L307.7 463.3 L309.2 463.2 L310.8 463.2 L312.3 463.3 L313.8 463.4 L315.3 463.6 L316.8 464.3 L316.8 464.3 L315.3 465.5 L313.8 466.2 L312.3 466.7 L310.8 467.1 L309.2 467.5 L307.7 467.7 L306.2 467.8 L304.7 467.9 L303.2 468.0 L301.7 468.0 L300.2 468.1 L298.7 468.1 L297.1 468.0 L295.6 468.0 L294.1 467.9 L292.6 467.8 L291.1 467.7 L289.6 467.5 L288.1 467.3 L286.6 467.0 L285.0 466.7 L283.5 466.2 L282.0 465.6 L280.5 464.9 L279.0 463.6Z" fill="#0a0a0a" opacity="1" filter="url(#b1)"/>
<path d="M281.0 473.8 L282.5 473.7 L284.1 473.7 L285.6 473.8 L287.1 474.0 L288.7 474.2 L290.2 474.5 L291.8 474.7 L293.3 474.8 L294.8 475.0 L296.4 475.0 L297.9 475.1 L299.4 475.1 L301.0 475.1 L302.5 475.0 L304.0 474.9 L305.6 474.8 L307.1 474.6 L308.7 474.5 L310.2 474.4 L311.7 474.3 L313.3 474.3 L314.8 474.5 L314.8 474.5 L313.3 475.4 L311.7 476.1 L310.2 476.6 L308.7 477.0 L307.1 477.2 L305.6 477.4 L304.0 477.5 L302.5 477.6 L301.0 477.7 L299.4 477.7 L297.9 477.7 L296.4 477.6 L294.8 477.6 L293.3 477.4 L291.8 477.3 L290.2 477.1 L288.7 476.8 L287.1 476.5 L285.6 476.1 L284.1 475.5 L282.5 474.8 L281.0 473.8Z" fill="#0a0a0a" opacity="0.1" filter="url(#b5)"/>
<ellipse cx="297.9" cy="483.3" rx="15" ry="3" fill="#000" opacity="0.045000000000000005" filter="url(#b2)"/>
<path d="M320.0 464.3 L321.5 463.6 L323.1 463.4 L324.6 463.3 L326.2 463.2 L327.7 463.3 L329.2 463.3 L330.8 463.4 L332.3 463.5 L333.9 463.6 L335.4 463.6 L336.9 463.7 L338.5 463.7 L340.0 463.8 L341.6 463.8 L343.1 463.8 L344.6 463.7 L346.2 463.7 L347.7 463.7 L349.3 463.6 L350.8 463.6 L352.3 463.6 L353.9 463.7 L355.4 463.9 L357.0 464.1 L358.5 464.9 L358.5 464.9 L357.0 466.0 L355.4 466.5 L353.9 466.9 L352.3 467.3 L350.8 467.5 L349.3 467.6 L347.7 467.7 L346.2 467.8 L344.6 467.8 L343.1 467.9 L341.6 467.9 L340.0 467.9 L338.5 467.8 L336.9 467.8 L335.4 467.7 L333.9 467.7 L332.3 467.6 L330.8 467.5 L329.2 467.3 L327.7 467.1 L326.2 466.8 L324.6 466.5 L323.1 466.0 L321.5 465.4 L320.0 464.3Z" fill="none" stroke="#000" stroke-width="3.7" stroke-linejoin="round" opacity="0.13" filter="url(#b2)"/>
<path d="M320.0 464.3 L321.5 463.6 L323.1 463.4 L324.6 463.3 L326.2 463.2 L327.7 463.3 L329.2 463.3 L330.8 463.4 L332.3 463.5 L333.9 463.6 L335.4 463.6 L336.9 463.7 L338.5 463.7 L340.0 463.8 L341.6 463.8 L343.1 463.8 L344.6 463.7 L346.2 463.7 L347.7 463.7 L349.3 463.6 L350.8 463.6 L352.3 463.6 L353.9 463.7 L355.4 463.9 L357.0 464.1 L358.5 464.9 L358.5 464.9 L357.0 466.0 L355.4 466.5 L353.9 466.9 L352.3 467.3 L350.8 467.5 L349.3 467.6 L347.7 467.7 L346.2 467.8 L344.6 467.8 L343.1 467.9 L341.6 467.9 L340.0 467.9 L338.5 467.8 L336.9 467.8 L335.4 467.7 L333.9 467.7 L332.3 467.6 L330.8 467.5 L329.2 467.3 L327.7 467.1 L326.2 466.8 L324.6 466.5 L323.1 466.0 L321.5 465.4 L320.0 464.3Z" fill="#0a0a0a" opacity="1" filter="url(#b1)"/>
<path d="M322.0 474.5 L323.5 474.2 L325.0 474.2 L326.5 474.2 L328.0 474.3 L329.5 474.4 L331.0 474.6 L332.5 474.7 L334.0 474.9 L335.5 475.0 L337.0 475.0 L338.5 475.1 L340.0 475.1 L341.5 475.1 L343.0 475.1 L344.5 475.0 L346.0 475.0 L347.5 474.9 L349.0 474.8 L350.5 474.7 L352.0 474.7 L353.5 474.7 L355.0 474.8 L356.5 475.1 L356.5 475.1 L355.0 475.9 L353.5 476.4 L352.0 476.8 L350.5 477.1 L349.0 477.4 L347.5 477.5 L346.0 477.6 L344.5 477.6 L343.0 477.7 L341.5 477.7 L340.0 477.7 L338.5 477.7 L337.0 477.6 L335.5 477.6 L334.0 477.5 L332.5 477.3 L331.0 477.2 L329.5 477.0 L328.0 476.8 L326.5 476.4 L325.0 475.9 L323.5 475.3 L322.0 474.5Z" fill="#0a0a0a" opacity="0.1" filter="url(#b5)"/>
<ellipse cx="339.25" cy="483.3" rx="15" ry="3" fill="#000" opacity="0.045000000000000005" filter="url(#b2)"/>
<ellipse cx="355.4" cy="464.9" rx="2.6" ry="2.2" fill="#000" opacity="0.9" filter="url(#b1)"/>
<rect x="107.2" y="454.1" width="264.3" height="37.8" fill="none" stroke="#484848" stroke-width="1.15" rx="0.8"/>
<rect x="107.45" y="505.3" width="264.8" height="38.0" fill="#f6f6f6"/>
<rect x="107.45" y="505.3" width="264.8" height="38.0" fill="#fff" filter="url(#noise)" opacity="0.5"/>
<path d="M119.2 516.5 L120.7 516.0 L122.2 516.0 L123.7 516.1 L125.2 516.3 L126.7 516.5 L128.2 516.7 L129.8 516.9 L131.3 517.1 L132.8 517.2 L134.3 517.4 L135.8 517.4 L137.3 517.5 L138.8 517.5 L140.3 517.5 L141.8 517.4 L143.3 517.4 L144.8 517.3 L146.3 517.1 L147.8 517.0 L149.4 516.8 L150.9 516.6 L152.4 516.4 L153.9 516.2 L155.4 516.1 L156.9 516.1 L158.4 516.6 L158.4 516.6 L156.9 517.8 L155.4 518.5 L153.9 519.0 L152.4 519.5 L150.9 519.8 L149.4 520.0 L147.8 520.2 L146.3 520.3 L144.8 520.5 L143.3 520.6 L141.8 520.6 L140.3 520.7 L138.8 520.7 L137.3 520.7 L135.8 520.6 L134.3 520.6 L132.8 520.4 L131.3 520.3 L129.8 520.1 L128.2 519.9 L126.7 519.7 L125.2 519.4 L123.7 519.0 L122.2 518.4 L120.7 517.7 L119.2 516.5Z" fill="none" stroke="#000" stroke-width="2.9" stroke-linejoin="round" opacity="0.13" filter="url(#b2)"/>
<path d="M119.2 516.5 L120.7 516.0 L122.2 516.0 L123.7 516.1 L125.2 516.3 L126.7 516.5 L128.2 516.7 L129.8 516.9 L131.3 517.1 L132.8 517.2 L134.3 517.4 L135.8 517.4 L137.3 517.5 L138.8 517.5 L140.3 517.5 L141.8 517.4 L143.3 517.4 L144.8 517.3 L146.3 517.1 L147.8 517.0 L149.4 516.8 L150.9 516.6 L152.4 516.4 L153.9 516.2 L155.4 516.1 L156.9 516.1 L158.4 516.6 L158.4 516.6 L156.9 517.8 L155.4 518.5 L153.9 519.0 L152.4 519.5 L150.9 519.8 L149.4 520.0 L147.8 520.2 L146.3 520.3 L144.8 520.5 L143.3 520.6 L141.8 520.6 L140.3 520.7 L138.8 520.7 L137.3 520.7 L135.8 520.6 L134.3 520.6 L132.8 520.4 L131.3 520.3 L129.8 520.1 L128.2 519.9 L126.7 519.7 L125.2 519.4 L123.7 519.0 L122.2 518.4 L120.7 517.7 L119.2 516.5Z" fill="#0a0a0a" opacity="0.95" filter="url(#b1)"/>
<path d="M159.6 516.5 L161.1 515.9 L162.7 515.8 L164.2 515.8 L165.7 515.9 L167.3 516.1 L168.8 516.2 L170.4 516.4 L171.9 516.6 L173.4 516.7 L175.0 516.8 L176.5 516.9 L178.0 516.9 L179.6 517.0 L181.1 517.0 L182.6 517.0 L184.2 516.9 L185.7 516.9 L187.2 516.8 L188.8 516.7 L190.3 516.6 L191.9 516.5 L193.4 516.5 L194.9 516.5 L196.5 516.7 L198.0 517.4 L198.0 517.4 L196.5 518.6 L194.9 519.2 L193.4 519.6 L191.9 519.9 L190.3 520.1 L188.8 520.2 L187.2 520.3 L185.7 520.4 L184.2 520.4 L182.6 520.5 L181.1 520.5 L179.6 520.5 L178.0 520.4 L176.5 520.4 L175.0 520.3 L173.4 520.2 L171.9 520.1 L170.4 519.9 L168.8 519.7 L167.3 519.5 L165.7 519.3 L164.2 518.9 L162.7 518.4 L161.1 517.7 L159.6 516.5Z" fill="none" stroke="#000" stroke-width="3.1" stroke-linejoin="round" opacity="0.13" filter="url(#b2)"/>
<path d="M159.6 516.5 L161.1 515.9 L162.7 515.8 L164.2 515.8 L165.7 515.9 L167.3 516.1 L168.8 516.2 L170.4 516.4 L171.9 516.6 L173.4 516.7 L175.0 516.8 L176.5 516.9 L178.0 516.9 L179.6 517.0 L181.1 517.0 L182.6 517.0 L184.2 516.9 L185.7 516.9 L187.2 516.8 L188.8 516.7 L190.3 516.6 L191.9 516.5 L193.4 516.5 L194.9 516.5 L196.5 516.7 L198.0 517.4 L198.0 517.4 L196.5 518.6 L194.9 519.2 L193.4 519.6 L191.9 519.9 L190.3 520.1 L188.8 520.2 L187.2 520.3 L185.7 520.4 L184.2 520.4 L182.6 520.5 L181.1 520.5 L179.6 520.5 L178.0 520.4 L176.5 520.4 L175.0 520.3 L173.4 520.2 L171.9 520.1 L170.4 519.9 L168.8 519.7 L167.3 519.5 L165.7 519.3 L164.2 518.9 L162.7 518.4 L161.1 517.7 L159.6 516.5Z" fill="#0a0a0a" opacity="1" filter="url(#b1)"/>
<path d="M198.6 517.0 L200.2 516.4 L201.7 516.3 L203.3 516.3 L204.8 516.3 L206.4 516.5 L207.9 516.6 L209.5 516.7 L211.0 516.8 L212.6 516.9 L214.2 517.0 L215.7 517.0 L217.3 517.0 L218.8 517.1 L220.4 517.0 L221.9 517.0 L223.5 517.0 L225.1 516.9 L226.6 516.8 L228.2 516.7 L229.7 516.6 L231.3 516.5 L232.8 516.4 L234.4 516.5 L235.9 516.6 L237.5 517.2 L237.5 517.2 L235.9 518.2 L234.4 518.8 L232.8 519.2 L231.3 519.5 L229.7 519.7 L228.2 519.8 L226.6 519.9 L225.1 520.0 L223.5 520.1 L221.9 520.1 L220.4 520.1 L218.8 520.2 L217.3 520.1 L215.7 520.1 L214.2 520.1 L212.6 520.0 L211.0 519.9 L209.5 519.8 L207.9 519.7 L206.4 519.5 L204.8 519.3 L203.3 519.0 L201.7 518.6 L200.2 518.1 L198.6 517.0Z" fill="none" stroke="#000" stroke-width="2.8" stroke-linejoin="round" opacity="0.13" filter="url(#b2)"/>
<path d="M198.6 517.0 L200.2 516.4 L201.7 516.3 L203.3 516.3 L204.8 516.3 L206.4 516.5 L207.9 516.6 L209.5 516.7 L211.0 516.8 L212.6 516.9 L214.2 517.0 L215.7 517.0 L217.3 517.0 L218.8 517.1 L220.4 517.0 L221.9 517.0 L223.5 517.0 L225.1 516.9 L226.6 516.8 L228.2 516.7 L229.7 516.6 L231.3 516.5 L232.8 516.4 L234.4 516.5 L235.9 516.6 L237.5 517.2 L237.5 517.2 L235.9 518.2 L234.4 518.8 L232.8 519.2 L231.3 519.5 L229.7 519.7 L228.2 519.8 L226.6 519.9 L225.1 520.0 L223.5 520.1 L221.9 520.1 L220.4 520.1 L218.8 520.2 L217.3 520.1 L215.7 520.1 L214.2 520.1 L212.6 520.0 L211.0 519.9 L209.5 519.8 L207.9 519.7 L206.4 519.5 L204.8 519.3 L203.3 519.0 L201.7 518.6 L200.2 518.1 L198.6 517.0Z" fill="#0a0a0a" opacity="0.97" filter="url(#b1)"/>
<path d="M238.0 517.2 L239.6 516.6 L241.1 516.4 L242.7 516.4 L244.2 516.4 L245.8 516.5 L247.3 516.6 L248.9 516.7 L250.5 516.7 L252.0 516.8 L253.6 516.8 L255.1 516.8 L256.7 516.9 L258.3 516.8 L259.8 516.8 L261.4 516.7 L262.9 516.7 L264.5 516.6 L266.0 516.5 L267.6 516.3 L269.2 516.3 L270.7 516.2 L272.3 516.2 L273.8 516.4 L275.4 517.0 L275.4 517.0 L273.8 518.0 L272.3 518.6 L270.7 519.0 L269.2 519.3 L267.6 519.4 L266.0 519.6 L264.5 519.7 L262.9 519.8 L261.4 519.8 L259.8 519.9 L258.3 519.9 L256.7 519.9 L255.1 519.9 L253.6 519.9 L252.0 519.9 L250.5 519.8 L248.9 519.8 L247.3 519.7 L245.8 519.6 L244.2 519.4 L242.7 519.1 L241.1 518.8 L239.6 518.2 L238.0 517.2Z" fill="none" stroke="#000" stroke-width="2.8" stroke-linejoin="round" opacity="0.13" filter="url(#b2)"/>
<path d="M238.0 517.2 L239.6 516.6 L241.1 516.4 L242.7 516.4 L244.2 516.4 L245.8 516.5 L247.3 516.6 L248.9 516.7 L250.5 516.7 L252.0 516.8 L253.6 516.8 L255.1 516.8 L256.7 516.9 L258.3 516.8 L259.8 516.8 L261.4 516.7 L262.9 516.7 L264.5 516.6 L266.0 516.5 L267.6 516.3 L269.2 516.3 L270.7 516.2 L272.3 516.2 L273.8 516.4 L275.4 517.0 L275.4 517.0 L273.8 518.0 L272.3 518.6 L270.7 519.0 L269.2 519.3 L267.6 519.4 L266.0 519.6 L264.5 519.7 L262.9 519.8 L261.4 519.8 L259.8 519.9 L258.3 519.9 L256.7 519.9 L255.1 519.9 L253.6 519.9 L252.0 519.9 L250.5 519.8 L248.9 519.8 L247.3 519.7 L245.8 519.6 L244.2 519.4 L242.7 519.1 L241.1 518.8 L239.6 518.2 L238.0 517.2Z" fill="#0a0a0a" opacity="0.97" filter="url(#b1)"/>
<path d="M276.0 517.0 L277.5 516.2 L279.1 515.9 L280.6 515.8 L282.2 515.7 L283.7 515.7 L285.2 515.8 L286.8 515.8 L288.3 515.9 L289.9 515.9 L291.4 515.9 L292.9 515.9 L294.5 515.9 L296.0 515.9 L297.6 515.9 L299.1 515.8 L300.6 515.8 L302.2 515.7 L303.7 515.7 L305.3 515.6 L306.8 515.5 L308.3 515.4 L309.9 515.5 L311.4 515.6 L313.0 515.8 L314.5 516.6 L314.5 516.6 L313.0 517.6 L311.4 518.1 L309.9 518.5 L308.3 518.7 L306.8 518.9 L305.3 519.0 L303.7 519.1 L302.2 519.1 L300.6 519.2 L299.1 519.2 L297.6 519.3 L296.0 519.3 L294.5 519.3 L292.9 519.3 L291.4 519.3 L289.9 519.3 L288.3 519.3 L286.8 519.2 L285.2 519.2 L283.7 519.1 L282.2 519.0 L280.6 518.8 L279.1 518.5 L277.5 518.0 L276.0 517.0Z" fill="none" stroke="#000" stroke-width="3.1" stroke-linejoin="round" opacity="0.13" filter="url(#b2)"/>
<path d="M276.0 517.0 L277.5 516.2 L279.1 515.9 L280.6 515.8 L282.2 515.7 L283.7 515.7 L285.2 515.8 L286.8 515.8 L288.3 515.9 L289.9 515.9 L291.4 515.9 L292.9 515.9 L294.5 515.9 L296.0 515.9 L297.6 515.9 L299.1 515.8 L300.6 515.8 L302.2 515.7 L303.7 515.7 L305.3 515.6 L306.8 515.5 L308.3 515.4 L309.9 515.5 L311.4 515.6 L313.0 515.8 L314.5 516.6 L314.5 516.6 L313.0 517.6 L311.4 518.1 L309.9 518.5 L308.3 518.7 L306.8 518.9 L305.3 519.0 L303.7 519.1 L302.2 519.1 L300.6 519.2 L299.1 519.2 L297.6 519.3 L296.0 519.3 L294.5 519.3 L292.9 519.3 L291.4 519.3 L289.9 519.3 L288.3 519.3 L286.8 519.2 L285.2 519.2 L283.7 519.1 L282.2 519.0 L280.6 518.8 L279.1 518.5 L277.5 518.0 L276.0 517.0Z" fill="#0a0a0a" opacity="1" filter="url(#b1)"/>
<path d="M315.6 516.6 L317.1 515.7 L318.6 515.4 L320.2 515.2 L321.7 515.1 L323.2 515.1 L324.7 515.2 L326.3 515.2 L327.8 515.3 L329.3 515.3 L330.8 515.3 L332.4 515.3 L333.9 515.3 L335.4 515.2 L336.9 515.2 L338.4 515.1 L340.0 515.1 L341.5 515.0 L343.0 514.9 L344.5 514.8 L346.1 514.7 L347.6 514.5 L349.1 514.4 L350.6 514.4 L352.2 514.5 L353.7 514.8 L355.2 515.6 L355.2 515.6 L353.7 516.8 L352.2 517.4 L350.6 517.9 L349.1 518.2 L347.6 518.4 L346.1 518.6 L344.5 518.7 L343.0 518.8 L341.5 518.9 L340.0 519.0 L338.4 519.0 L336.9 519.1 L335.4 519.2 L333.9 519.2 L332.4 519.2 L330.8 519.2 L329.3 519.2 L327.8 519.2 L326.3 519.1 L324.7 519.1 L323.2 519.0 L321.7 518.9 L320.2 518.7 L318.6 518.3 L317.1 517.8 L315.6 516.6Z" fill="none" stroke="#000" stroke-width="3.5" stroke-linejoin="round" opacity="0.13" filter="url(#b2)"/>
<path d="M315.6 516.6 L317.1 515.7 L318.6 515.4 L320.2 515.2 L321.7 515.1 L323.2 515.1 L324.7 515.2 L326.3 515.2 L327.8 515.3 L329.3 515.3 L330.8 515.3 L332.4 515.3 L333.9 515.3 L335.4 515.2 L336.9 515.2 L338.4 515.1 L340.0 515.1 L341.5 515.0 L343.0 514.9 L344.5 514.8 L346.1 514.7 L347.6 514.5 L349.1 514.4 L350.6 514.4 L352.2 514.5 L353.7 514.8 L355.2 515.6 L355.2 515.6 L353.7 516.8 L352.2 517.4 L350.6 517.9 L349.1 518.2 L347.6 518.4 L346.1 518.6 L344.5 518.7 L343.0 518.8 L341.5 518.9 L340.0 519.0 L338.4 519.0 L336.9 519.1 L335.4 519.2 L333.9 519.2 L332.4 519.2 L330.8 519.2 L329.3 519.2 L327.8 519.2 L326.3 519.1 L324.7 519.1 L323.2 519.0 L321.7 518.9 L320.2 518.7 L318.6 518.3 L317.1 517.8 L315.6 516.6Z" fill="#0a0a0a" opacity="1" filter="url(#b1)"/>
<ellipse cx="306.2" cy="516.9" rx="8" ry="2.7" fill="#000" opacity="0.95" filter="url(#b1)"/>
<ellipse cx="302" cy="511" rx="11" ry="5" fill="#000" opacity="0.13" filter="url(#b2)"/>
<ellipse cx="306" cy="521" rx="9" ry="3" fill="#000" opacity="0.1" filter="url(#b2)"/>
<ellipse cx="308" cy="527.3" rx="2.0" ry="1.1" fill="#000" opacity="0.25" filter="url(#b1)"/>
<ellipse cx="271.5" cy="532.5" rx="0.8" ry="0.8" fill="#000" opacity="0.17" filter="url(#b3)"/>
<ellipse cx="353.3" cy="532.4" rx="0.8" ry="0.8" fill="#000" opacity="0.19" filter="url(#b3)"/>
<ellipse cx="119.4" cy="523.4" rx="0.8" ry="0.8" fill="#000" opacity="0.19" filter="url(#b3)"/>
<ellipse cx="278.1" cy="537.7" rx="0.8" ry="0.8" fill="#000" opacity="0.08" filter="url(#b3)"/>
<ellipse cx="232.1" cy="516.1" rx="0.8" ry="0.8" fill="#000" opacity="0.14" filter="url(#b3)"/>
<ellipse cx="258.9" cy="508.4" rx="0.8" ry="0.8" fill="#000" opacity="0.09" filter="url(#b3)"/>
<ellipse cx="183.5" cy="538.2" rx="0.8" ry="0.8" fill="#000" opacity="0.17" filter="url(#b3)"/>
<ellipse cx="152.9" cy="534.3" rx="0.8" ry="0.8" fill="#000" opacity="0.08" filter="url(#b3)"/>
<ellipse cx="270.1" cy="512.2" rx="0.8" ry="0.8" fill="#000" opacity="0.06" filter="url(#b3)"/>
<ellipse cx="335.1" cy="514.9" rx="0.8" ry="0.8" fill="#000" opacity="0.09" filter="url(#b3)"/>
<ellipse cx="363.5" cy="536.8" rx="0.8" ry="0.8" fill="#000" opacity="0.1" filter="url(#b3)"/>
<ellipse cx="358.1" cy="525.8" rx="0.8" ry="0.8" fill="#000" opacity="0.15" filter="url(#b3)"/>
<ellipse cx="164.4" cy="539.1" rx="0.8" ry="0.8" fill="#000" opacity="0.16" filter="url(#b3)"/>
<ellipse cx="359.4" cy="537.5" rx="0.8" ry="0.8" fill="#000" opacity="0.1" filter="url(#b3)"/>
<ellipse cx="204.5" cy="513.5" rx="0.8" ry="0.8" fill="#000" opacity="0.08" filter="url(#b3)"/>
<ellipse cx="128.7" cy="517.9" rx="0.8" ry="0.8" fill="#000" opacity="0.14" filter="url(#b3)"/>
<ellipse cx="112.9" cy="530.4" rx="0.8" ry="0.8" fill="#000" opacity="0.11" filter="url(#b3)"/>
<ellipse cx="191.3" cy="535.0" rx="0.8" ry="0.8" fill="#000" opacity="0.13" filter="url(#b3)"/>
<ellipse cx="192.8" cy="523.9" rx="0.8" ry="0.8" fill="#000" opacity="0.16" filter="url(#b3)"/>
<ellipse cx="126.6" cy="540.2" rx="0.8" ry="0.8" fill="#000" opacity="0.06" filter="url(#b3)"/>
<ellipse cx="303.9" cy="535.9" rx="0.8" ry="0.8" fill="#000" opacity="0.06" filter="url(#b3)"/>
<ellipse cx="313.7" cy="520.1" rx="0.8" ry="0.8" fill="#000" opacity="0.14" filter="url(#b3)"/>
<ellipse cx="255.5" cy="510.8" rx="1.0" ry="1.0" fill="#000" opacity="0.4" filter="url(#b3)"/>
<ellipse cx="128" cy="536" rx="15" ry="5" fill="#000" opacity="0.045" filter="url(#b2)"/>
<ellipse cx="190" cy="511" rx="14" ry="3" fill="#000" opacity="0.05" filter="url(#b2)"/>
<rect x="107.45" y="505.3" width="264.8" height="38.0" fill="none" stroke="#484848" stroke-width="1.15" rx="0.8"/>
<text x="52.3" y="479.6" font-family="Liberation Serif, serif" font-size="16.7" font-weight="normal" textLength="43.1" lengthAdjust="spacingAndGlyphs" fill="#111">SIRT1</text>
<text x="52.8" y="527.2" font-family="Liberation Serif, serif" font-size="16.7" font-weight="normal" textLength="46.4" lengthAdjust="spacingAndGlyphs" fill="#111">β-actin</text>
<text x="58.7" y="562.7" font-family="Liberation Serif, serif" font-size="16.7" font-weight="normal" textLength="37.6" lengthAdjust="spacingAndGlyphs" fill="#111">D-gal</text>
<text x="33.8" y="583" font-family="Liberation Serif, serif" font-size="16.7" font-weight="normal" textLength="63.1" lengthAdjust="spacingAndGlyphs" fill="#111">Calcitriol</text>
<text x="20" y="610.3" font-family="Liberation Serif, serif" font-size="16.7" font-weight="normal" textLength="86.3" lengthAdjust="spacingAndGlyphs" fill="#111">RPPSFF/μM</text>
<text x="121.2" y="563.3" font-family="Liberation Serif, serif" font-size="16.7" font-weight="normal" text-anchor="middle" fill="#111">-</text>
<text x="163.1" y="563.9" font-family="Liberation Serif, serif" font-size="18.4" font-weight="normal" text-anchor="middle" fill="#222">+</text>
<text x="206.6" y="563.9" font-family="Liberation Serif, serif" font-size="18.4" font-weight="normal" text-anchor="middle" fill="#222">+</text>
<text x="250.2" y="563.9" font-family="Liberation Serif, serif" font-size="18.4" font-weight="normal" text-anchor="middle" fill="#222">+</text>
<text x="294.3" y="563.9" font-family="Liberation Serif, serif" font-size="18.4" font-weight="normal" text-anchor="middle" fill="#222">+</text>
<text x="338.4" y="563.9" font-family="Liberation Serif, serif" font-size="18.4" font-weight="normal" text-anchor="middle" fill="#222">+</text>
<text x="122.2" y="582.6" font-family="Liberation Serif, serif" font-size="16.7" font-weight="normal" text-anchor="middle" fill="#111">-</text>
<text x="162.2" y="582.6" font-family="Liberation Serif, serif" font-size="16.7" font-weight="normal" text-anchor="middle" fill="#111">-</text>
<text x="208" y="582.4" font-family="Liberation Serif, serif" font-size="18.4" font-weight="normal" text-anchor="middle" fill="#222">+</text>
<text x="250.2" y="582.6" font-family="Liberation Serif, serif" font-size="16.7" font-weight="normal" text-anchor="middle" fill="#111">-</text>
<text x="294.3" y="582.6" font-family="Liberation Serif, serif" font-size="16.7" font-weight="normal" text-anchor="middle" fill="#111">-</text>
<text x="339" y="582.6" font-family="Liberation Serif, serif" font-size="16.7" font-weight="normal" text-anchor="middle" fill="#111">-</text>
<text x="123.7" y="610.3" font-family="Liberation Serif, serif" font-size="16.7" font-weight="normal" text-anchor="middle" fill="#111">-</text>
<text x="163.7" y="610.3" font-family="Liberation Serif, serif" font-size="16.7" font-weight="normal" text-anchor="middle" fill="#111">-</text>
<text x="207.8" y="610.3" font-family="Liberation Serif, serif" font-size="16.7" font-weight="normal" text-anchor="middle" fill="#111">-</text>
<text x="241.5" y="610.3" font-family="Liberation Serif, serif" font-size="16.7" font-weight="normal" textLength="16.0" lengthAdjust="spacingAndGlyphs" fill="#111">20</text>
<text x="287.6" y="610.3" font-family="Liberation Serif, serif" font-size="16.7" font-weight="normal" textLength="16.4" lengthAdjust="spacingAndGlyphs" fill="#111">40</text>
<text x="334.5" y="610.3" font-family="Liberation Serif, serif" font-size="16.7" font-weight="normal" textLength="17.1" lengthAdjust="spacingAndGlyphs" fill="#111">80</text>
<path d="M474.2 24.1 V19.0 M470.2 19.0 H478.2" stroke="#2a2a2a" stroke-width="1.1" fill="none"/>
<rect x="466.65" y="24.6" width="15.20" height="102.7" fill="#ffffff" stroke="#222" stroke-width="1.1"/>
<path d="M474.2 127.3 v2.4" stroke="#111" stroke-width="1.2"/>
<path d="M499.0 76.2 V72.1 M495.0 72.1 H503.0" stroke="#2a2a2a" stroke-width="1.1" fill="none"/>
<rect x="491.55" y="76.7" width="14.90" height="50.6" fill="#d8d8d8" stroke="#222" stroke-width="1.1"/>
<text x="500.4" y="74.5" font-family="Liberation Sans, sans-serif" font-size="10" letter-spacing="0.6" text-anchor="middle" fill="#1c1c1c">**</text>
<path d="M499.0 127.3 v2.4" stroke="#111" stroke-width="1.2"/>
<path d="M523.8 42.2 V36.8 M519.8 36.8 H527.8" stroke="#2a2a2a" stroke-width="1.1" fill="none"/>
<rect x="516.15" y="42.7" width="15.30" height="84.6" fill="#a5a5a8" stroke="#222" stroke-width="1.1"/>
<text x="524.0" y="31.4" font-family="Liberation Sans, sans-serif" font-size="6.6" font-style="italic" font-weight="bold" text-anchor="middle" fill="#1c1c1c" stroke="#1c1c1c" stroke-width="0.12">##</text>
<path d="M523.8 127.3 v2.4" stroke="#111" stroke-width="1.2"/>
<path d="M548.7 55.3 V50.8 M544.7 50.8 H552.7" stroke="#2a2a2a" stroke-width="1.1" fill="none"/>
<rect x="541.05" y="55.8" width="15.30" height="71.5" fill="#7f7f7f" stroke="#222" stroke-width="1.1"/>
<text x="548.9" y="44.9" font-family="Liberation Sans, sans-serif" font-size="6.6" font-style="italic" font-weight="bold" text-anchor="middle" fill="#1c1c1c" stroke="#1c1c1c" stroke-width="0.12">##</text>
<path d="M548.7 127.3 v2.4" stroke="#111" stroke-width="1.2"/>
<path d="M573.5 43.0 V40.3 M569.5 40.3 H577.5" stroke="#2a2a2a" stroke-width="1.1" fill="none"/>
<rect x="565.85" y="43.5" width="15.40" height="83.8" fill="#5f5f5f" stroke="#222" stroke-width="1.1"/>
<text x="573.8" y="37.4" font-family="Liberation Sans, sans-serif" font-size="6.6" font-style="italic" font-weight="bold" text-anchor="middle" fill="#1c1c1c" stroke="#1c1c1c" stroke-width="0.12">##</text>
<path d="M573.5 127.3 v2.4" stroke="#111" stroke-width="1.2"/>
<path d="M598.6 26.8 V20.9 M594.6 20.9 H602.6" stroke="#2a2a2a" stroke-width="1.1" fill="none"/>
<rect x="590.85" y="27.3" width="15.50" height="100.0" fill="#333333" stroke="#222" stroke-width="1.1"/>
<text x="598.8" y="18.1" font-family="Liberation Sans, sans-serif" font-size="6.6" font-style="italic" font-weight="bold" text-anchor="middle" fill="#1c1c1c" stroke="#1c1c1c" stroke-width="0.12">##</text>
<path d="M598.6 127.3 v2.4" stroke="#111" stroke-width="1.2"/>
<path d="M457.5 2.0 V128.1" stroke="#111" stroke-width="1.5" fill="none"/>
<path d="M456.8 127.3 H616.8" stroke="#111" stroke-width="1.7" fill="none"/>
<path d="M453.9 127.3 H457.5" stroke="#111" stroke-width="1.4"/>
<text x="452.8" y="130.6" font-family="Liberation Serif, serif" font-size="8.9" font-weight="bold" text-anchor="end" fill="#111">0.0</text>
<path d="M453.9 96.2 H457.5" stroke="#111" stroke-width="1.4"/>
<text x="452.8" y="99.5" font-family="Liberation Serif, serif" font-size="8.9" font-weight="bold" text-anchor="end" fill="#111">0.3</text>
<path d="M453.9 65.0 H457.5" stroke="#111" stroke-width="1.4"/>
<text x="452.8" y="68.3" font-family="Liberation Serif, serif" font-size="8.9" font-weight="bold" text-anchor="end" fill="#111">0.6</text>
<path d="M453.9 33.9 H457.5" stroke="#111" stroke-width="1.4"/>
<text x="452.8" y="37.2" font-family="Liberation Serif, serif" font-size="8.9" font-weight="bold" text-anchor="end" fill="#111">0.9</text>
<path d="M453.9 2.7 H457.5" stroke="#111" stroke-width="1.4"/>
<text x="452.8" y="6.0" font-family="Liberation Serif, serif" font-size="8.9" font-weight="bold" text-anchor="end" fill="#111">1.2</text>
<text transform="translate(436.2 115.0) rotate(-90)" font-family="Liberation Serif, serif" font-size="10" font-weight="bold" textLength="100.2" lengthAdjust="spacingAndGlyphs" fill="#111">YY1 relative expression</text>
<text x="432.1" y="141.1" font-family="Liberation Serif, serif" font-size="8.3" font-weight="bold" textLength="19.6" lengthAdjust="spacingAndGlyphs" fill="#111">D-gal</text>
<text x="475.5" y="141.1" font-family="Liberation Serif, serif" font-size="8.3" font-weight="bold" text-anchor="middle" fill="#111">-</text>
<text x="499.1" y="141.1" font-family="Liberation Serif, serif" font-size="8.3" font-weight="bold" text-anchor="middle" fill="#111">+</text>
<text x="526" y="141.1" font-family="Liberation Serif, serif" font-size="8.3" font-weight="bold" text-anchor="middle" fill="#111">+</text>
<text x="550.5" y="141.1" font-family="Liberation Serif, serif" font-size="8.3" font-weight="bold" text-anchor="middle" fill="#111">+</text>
<text x="575" y="141.1" font-family="Liberation Serif, serif" font-size="8.3" font-weight="bold" text-anchor="middle" fill="#111">+</text>
<text x="599.3" y="141.1" font-family="Liberation Serif, serif" font-size="8.3" font-weight="bold" text-anchor="middle" fill="#111">+</text>
<text x="423.8" y="155.1" font-family="Liberation Serif, serif" font-size="8.3" font-weight="bold" textLength="33.6" lengthAdjust="spacingAndGlyphs" fill="#111">Calcitriol</text>
<text x="475.5" y="155.1" font-family="Liberation Serif, serif" font-size="8.3" font-weight="bold" text-anchor="middle" fill="#111">-</text>
<text x="498.4" y="155.1" font-family="Liberation Serif, serif" font-size="8.3" font-weight="bold" text-anchor="middle" fill="#111">-</text>
<text x="526" y="155.1" font-family="Liberation Serif, serif" font-size="8.3" font-weight="bold" text-anchor="middle" fill="#111">+</text>
<text x="550.5" y="155.1" font-family="Liberation Serif, serif" font-size="8.3" font-weight="bold" text-anchor="middle" fill="#111">-</text>
<text x="575.2" y="155.1" font-family="Liberation Serif, serif" font-size="8.3" font-weight="bold" text-anchor="middle" fill="#111">-</text>
<text x="600.3" y="155.1" font-family="Liberation Serif, serif" font-size="8.3" font-weight="bold" text-anchor="middle" fill="#111">-</text>
<text x="419.5" y="169.4" font-family="Liberation Serif, serif" font-size="8.3" font-weight="bold" textLength="45.7" lengthAdjust="spacingAndGlyphs" fill="#111">RPPSFF/μM</text>
<text x="476" y="169.4" font-family="Liberation Serif, serif" font-size="8.3" font-weight="bold" text-anchor="middle" fill="#111">-</text>
<text x="498.4" y="169.4" font-family="Liberation Serif, serif" font-size="8.3" font-weight="bold" text-anchor="middle" fill="#111">-</text>
<text x="524.1" y="169.4" font-family="Liberation Serif, serif" font-size="8.3" font-weight="bold" text-anchor="middle" fill="#111">-</text>
<text x="547.6" y="169.4" font-family="Liberation Serif, serif" font-size="8.3" font-weight="bold" textLength="8.6" lengthAdjust="spacingAndGlyphs" fill="#111">20</text>
<text x="571.7" y="169.4" font-family="Liberation Serif, serif" font-size="8.3" font-weight="bold" textLength="8.6" lengthAdjust="spacingAndGlyphs" fill="#111">40</text>
<text x="595.7" y="169.4" font-family="Liberation Serif, serif" font-size="8.3" font-weight="bold" textLength="8.6" lengthAdjust="spacingAndGlyphs" fill="#111">80</text>
<path d="M473.7 230.4 V228.7 M469.7 228.7 H477.7" stroke="#2a2a2a" stroke-width="1.1" fill="none"/>
<rect x="466.15" y="230.9" width="15.10" height="101.9" fill="#ffffff" stroke="#222" stroke-width="1.1"/>
<path d="M473.7 332.8 v2.4" stroke="#111" stroke-width="1.2"/>
<path d="M498.6 286.3 V282.4 M494.6 282.4 H502.6" stroke="#2a2a2a" stroke-width="1.1" fill="none"/>
<rect x="491.05" y="286.8" width="15.20" height="46.0" fill="#d8d8d8" stroke="#222" stroke-width="1.1"/>
<text x="500.0" y="279.8" font-family="Liberation Sans, sans-serif" font-size="10" letter-spacing="0.6" text-anchor="middle" fill="#1c1c1c">**</text>
<path d="M498.6 332.8 v2.4" stroke="#111" stroke-width="1.2"/>
<path d="M523.4 263.3 V260.6 M519.4 260.6 H527.4" stroke="#2a2a2a" stroke-width="1.1" fill="none"/>
<rect x="515.75" y="263.8" width="15.20" height="69.0" fill="#a5a5a8" stroke="#222" stroke-width="1.1"/>
<text x="523.6" y="254.3" font-family="Liberation Sans, sans-serif" font-size="6.6" font-style="italic" font-weight="bold" text-anchor="middle" fill="#1c1c1c" stroke="#1c1c1c" stroke-width="0.12">##</text>
<path d="M523.4 332.8 v2.4" stroke="#111" stroke-width="1.2"/>
<path d="M547.8 275.9 V272.7 M543.8 272.7 H551.8" stroke="#2a2a2a" stroke-width="1.1" fill="none"/>
<rect x="540.15" y="276.4" width="15.20" height="56.4" fill="#7f7f7f" stroke="#222" stroke-width="1.1"/>
<text x="548.0" y="267.6" font-family="Liberation Sans, sans-serif" font-size="6.6" font-style="italic" font-weight="bold" text-anchor="middle" fill="#1c1c1c" stroke="#1c1c1c" stroke-width="0.12">##</text>
<path d="M547.8 332.8 v2.4" stroke="#111" stroke-width="1.2"/>
<path d="M572.6 246.0 V242.1 M568.6 242.1 H576.6" stroke="#2a2a2a" stroke-width="1.1" fill="none"/>
<rect x="565.05" y="246.5" width="15.20" height="86.3" fill="#5f5f5f" stroke="#222" stroke-width="1.1"/>
<text x="572.9" y="235.4" font-family="Liberation Sans, sans-serif" font-size="6.6" font-style="italic" font-weight="bold" text-anchor="middle" fill="#1c1c1c" stroke="#1c1c1c" stroke-width="0.12">##</text>
<path d="M572.6 332.8 v2.4" stroke="#111" stroke-width="1.2"/>
<path d="M597.0 237.8 V234.4 M593.0 234.4 H601.0" stroke="#2a2a2a" stroke-width="1.1" fill="none"/>
<rect x="589.45" y="238.3" width="15.20" height="94.5" fill="#333333" stroke="#222" stroke-width="1.1"/>
<text x="597.2" y="230.7" font-family="Liberation Sans, sans-serif" font-size="6.6" font-style="italic" font-weight="bold" text-anchor="middle" fill="#1c1c1c" stroke="#1c1c1c" stroke-width="0.12">##</text>
<path d="M597.0 332.8 v2.4" stroke="#111" stroke-width="1.2"/>
<path d="M457.5 209.2 V333.6" stroke="#111" stroke-width="1.5" fill="none"/>
<path d="M456.8 332.8 H614.6" stroke="#111" stroke-width="1.7" fill="none"/>
<path d="M453.9 332.8 H457.5" stroke="#111" stroke-width="1.4"/>
<text x="452.8" y="336.1" font-family="Liberation Serif, serif" font-size="8.9" font-weight="bold" text-anchor="end" fill="#111">0.0</text>
<path d="M453.9 302.1 H457.5" stroke="#111" stroke-width="1.4"/>
<text x="452.8" y="305.4" font-family="Liberation Serif, serif" font-size="8.9" font-weight="bold" text-anchor="end" fill="#111">0.3</text>
<path d="M453.9 271.4 H457.5" stroke="#111" stroke-width="1.4"/>
<text x="452.8" y="274.7" font-family="Liberation Serif, serif" font-size="8.9" font-weight="bold" text-anchor="end" fill="#111">0.6</text>
<path d="M453.9 240.6 H457.5" stroke="#111" stroke-width="1.4"/>
<text x="452.8" y="243.9" font-family="Liberation Serif, serif" font-size="8.9" font-weight="bold" text-anchor="end" fill="#111">0.9</text>
<path d="M453.9 209.9 H457.5" stroke="#111" stroke-width="1.4"/>
<text x="452.8" y="213.2" font-family="Liberation Serif, serif" font-size="8.9" font-weight="bold" text-anchor="end" fill="#111">1.2</text>
<text transform="translate(436.4 307.8) rotate(-90)" font-family="Liberation Serif, serif" font-size="10" font-weight="bold" textLength="73.2" lengthAdjust="spacingAndGlyphs" fill="#111">p-AMPK/AMPK</text>
<text x="432.4" y="345.9" font-family="Liberation Serif, serif" font-size="8.3" font-weight="bold" textLength="19.0" lengthAdjust="spacingAndGlyphs" fill="#111">D-gal</text>
<text x="474.8" y="345.9" font-family="Liberation Serif, serif" font-size="8.3" font-weight="bold" text-anchor="middle" fill="#111">-</text>
<text x="498.3" y="345.9" font-family="Liberation Serif, serif" font-size="8.3" font-weight="bold" text-anchor="middle" fill="#111">+</text>
<text x="524.7" y="345.9" font-family="Liberation Serif, serif" font-size="8.3" font-weight="bold" text-anchor="middle" fill="#111">+</text>
<text x="549.1" y="345.9" font-family="Liberation Serif, serif" font-size="8.3" font-weight="bold" text-anchor="middle" fill="#111">+</text>
<text x="573.3" y="345.9" font-family="Liberation Serif, serif" font-size="8.3" font-weight="bold" text-anchor="middle" fill="#111">+</text>
<text x="597.6" y="345.9" font-family="Liberation Serif, serif" font-size="8.3" font-weight="bold" text-anchor="middle" fill="#111">+</text>
<text x="423.8" y="359.6" font-family="Liberation Serif, serif" font-size="8.3" font-weight="bold" textLength="33.1" lengthAdjust="spacingAndGlyphs" fill="#111">Calcitriol</text>
<text x="474.8" y="359.6" font-family="Liberation Serif, serif" font-size="8.3" font-weight="bold" text-anchor="middle" fill="#111">-</text>
<text x="498.3" y="359.6" font-family="Liberation Serif, serif" font-size="8.3" font-weight="bold" text-anchor="middle" fill="#111">-</text>
<text x="525.2" y="359.6" font-family="Liberation Serif, serif" font-size="8.3" font-weight="bold" text-anchor="middle" fill="#111">+</text>
<text x="548.8" y="359.6" font-family="Liberation Serif, serif" font-size="8.3" font-weight="bold" text-anchor="middle" fill="#111">-</text>
<text x="573.4" y="359.6" font-family="Liberation Serif, serif" font-size="8.3" font-weight="bold" text-anchor="middle" fill="#111">-</text>
<text x="598.3" y="359.6" font-family="Liberation Serif, serif" font-size="8.3" font-weight="bold" text-anchor="middle" fill="#111">-</text>
<text x="418.8" y="373.9" font-family="Liberation Serif, serif" font-size="8.3" font-weight="bold" textLength="46.4" lengthAdjust="spacingAndGlyphs" fill="#111">RPPSFF/μM</text>
<text x="474.8" y="373.9" font-family="Liberation Serif, serif" font-size="8.3" font-weight="bold" text-anchor="middle" fill="#111">-</text>
<text x="498.6" y="373.9" font-family="Liberation Serif, serif" font-size="8.3" font-weight="bold" text-anchor="middle" fill="#111">-</text>
<text x="522.4" y="373.9" font-family="Liberation Serif, serif" font-size="8.3" font-weight="bold" text-anchor="middle" fill="#111">-</text>
<text x="545.7" y="373.9" font-family="Liberation Serif, serif" font-size="8.3" font-weight="bold" textLength="8.6" lengthAdjust="spacingAndGlyphs" fill="#111">20</text>
<text x="569.8" y="373.9" font-family="Liberation Serif, serif" font-size="8.3" font-weight="bold" textLength="8.6" lengthAdjust="spacingAndGlyphs" fill="#111">40</text>
<text x="591.2" y="373.9" font-family="Liberation Serif, serif" font-size="8.3" font-weight="bold" textLength="8.6" lengthAdjust="spacingAndGlyphs" fill="#111">80</text>
<path d="M474.1 454.0 V450.6 M470.1 450.6 H478.1" stroke="#2a2a2a" stroke-width="1.1" fill="none"/>
<rect x="466.55" y="454.5" width="15.20" height="101.6" fill="#ffffff" stroke="#222" stroke-width="1.1"/>
<path d="M474.1 556.1 v2.4" stroke="#111" stroke-width="1.2"/>
<path d="M499.0 509.1 V504.9 M495.0 504.9 H503.0" stroke="#2a2a2a" stroke-width="1.1" fill="none"/>
<rect x="491.55" y="509.6" width="14.90" height="46.5" fill="#d8d8d8" stroke="#222" stroke-width="1.1"/>
<text x="500.4" y="502.1" font-family="Liberation Sans, sans-serif" font-size="10" letter-spacing="0.6" text-anchor="middle" fill="#1c1c1c">**</text>
<path d="M499.0 556.1 v2.4" stroke="#111" stroke-width="1.2"/>
<path d="M523.8 498.3 V493.7 M519.8 493.7 H527.8" stroke="#2a2a2a" stroke-width="1.1" fill="none"/>
<rect x="516.15" y="498.8" width="15.20" height="57.3" fill="#a5a5a8" stroke="#222" stroke-width="1.1"/>
<path d="M523.8 556.1 v2.4" stroke="#111" stroke-width="1.2"/>
<path d="M548.1 463.3 V456.8 M544.1 456.8 H552.1" stroke="#2a2a2a" stroke-width="1.1" fill="none"/>
<rect x="540.55" y="463.8" width="15.20" height="92.3" fill="#7f7f7f" stroke="#222" stroke-width="1.1"/>
<text x="548.4" y="452.3" font-family="Liberation Sans, sans-serif" font-size="6.6" font-style="italic" font-weight="bold" text-anchor="middle" fill="#1c1c1c" stroke="#1c1c1c" stroke-width="0.12">##</text>
<path d="M548.1 556.1 v2.4" stroke="#111" stroke-width="1.2"/>
<path d="M572.6 460.9 V457.2 M568.6 457.2 H576.6" stroke="#2a2a2a" stroke-width="1.1" fill="none"/>
<rect x="565.05" y="461.4" width="15.20" height="94.7" fill="#5f5f5f" stroke="#222" stroke-width="1.1"/>
<text x="572.9" y="452.3" font-family="Liberation Sans, sans-serif" font-size="6.6" font-style="italic" font-weight="bold" text-anchor="middle" fill="#1c1c1c" stroke="#1c1c1c" stroke-width="0.12">##</text>
<path d="M572.6 556.1 v2.4" stroke="#111" stroke-width="1.2"/>
<path d="M597.3 443.9 V439.3 M593.3 439.3 H601.3" stroke="#2a2a2a" stroke-width="1.1" fill="none"/>
<rect x="589.85" y="444.4" width="14.90" height="111.7" fill="#333333" stroke="#222" stroke-width="1.1"/>
<text x="597.5" y="434.6" font-family="Liberation Sans, sans-serif" font-size="6.6" font-style="italic" font-weight="bold" text-anchor="middle" fill="#1c1c1c" stroke="#1c1c1c" stroke-width="0.12">##</text>
<path d="M597.3 556.1 v2.4" stroke="#111" stroke-width="1.2"/>
<path d="M457.5 433.1 V556.9" stroke="#111" stroke-width="1.5" fill="none"/>
<path d="M456.8 556.1 H614.3" stroke="#111" stroke-width="1.7" fill="none"/>
<path d="M453.9 556.1 H457.5" stroke="#111" stroke-width="1.4"/>
<text x="452.8" y="559.4" font-family="Liberation Serif, serif" font-size="8.9" font-weight="bold" text-anchor="end" fill="#111">0.0</text>
<path d="M453.9 525.5 H457.5" stroke="#111" stroke-width="1.4"/>
<text x="452.8" y="528.8" font-family="Liberation Serif, serif" font-size="8.9" font-weight="bold" text-anchor="end" fill="#111">0.3</text>
<path d="M453.9 495.0 H457.5" stroke="#111" stroke-width="1.4"/>
<text x="452.8" y="498.3" font-family="Liberation Serif, serif" font-size="8.9" font-weight="bold" text-anchor="end" fill="#111">0.6</text>
<path d="M453.9 464.4 H457.5" stroke="#111" stroke-width="1.4"/>
<text x="452.8" y="467.7" font-family="Liberation Serif, serif" font-size="8.9" font-weight="bold" text-anchor="end" fill="#111">0.9</text>
<path d="M453.9 433.8 H457.5" stroke="#111" stroke-width="1.4"/>
<text x="452.8" y="437.1" font-family="Liberation Serif, serif" font-size="8.9" font-weight="bold" text-anchor="end" fill="#111">1.2</text>
<text transform="translate(436.4 549.6) rotate(-90)" font-family="Liberation Serif, serif" font-size="10" font-weight="bold" textLength="109.8" lengthAdjust="spacingAndGlyphs" fill="#111">SIRT1 relative expression</text>
<text x="432.1" y="572.6" font-family="Liberation Serif, serif" font-size="8.3" font-weight="bold" textLength="19.3" lengthAdjust="spacingAndGlyphs" fill="#111">D-gal</text>
<text x="475" y="572.6" font-family="Liberation Serif, serif" font-size="8.3" font-weight="bold" text-anchor="middle" fill="#111">-</text>
<text x="497.9" y="572.6" font-family="Liberation Serif, serif" font-size="8.3" font-weight="bold" text-anchor="middle" fill="#111">+</text>
<text x="524.3" y="572.6" font-family="Liberation Serif, serif" font-size="8.3" font-weight="bold" text-anchor="middle" fill="#111">+</text>
<text x="548.3" y="572.6" font-family="Liberation Serif, serif" font-size="8.3" font-weight="bold" text-anchor="middle" fill="#111">+</text>
<text x="572.4" y="572.6" font-family="Liberation Serif, serif" font-size="8.3" font-weight="bold" text-anchor="middle" fill="#111">+</text>
<text x="596.7" y="572.6" font-family="Liberation Serif, serif" font-size="8.3" font-weight="bold" text-anchor="middle" fill="#111">+</text>
<text x="423.8" y="586.9" font-family="Liberation Serif, serif" font-size="8.3" font-weight="bold" textLength="33.1" lengthAdjust="spacingAndGlyphs" fill="#111">Calcitriol</text>
<text x="475" y="586.9" font-family="Liberation Serif, serif" font-size="8.3" font-weight="bold" text-anchor="middle" fill="#111">-</text>
<text x="497.6" y="586.9" font-family="Liberation Serif, serif" font-size="8.3" font-weight="bold" text-anchor="middle" fill="#111">-</text>
<text x="525" y="586.9" font-family="Liberation Serif, serif" font-size="8.3" font-weight="bold" text-anchor="middle" fill="#111">+</text>
<text x="548.3" y="586.9" font-family="Liberation Serif, serif" font-size="8.3" font-weight="bold" text-anchor="middle" fill="#111">-</text>
<text x="572.9" y="586.9" font-family="Liberation Serif, serif" font-size="8.3" font-weight="bold" text-anchor="middle" fill="#111">-</text>
<text x="597.4" y="586.9" font-family="Liberation Serif, serif" font-size="8.3" font-weight="bold" text-anchor="middle" fill="#111">-</text>
<text x="419.5" y="601" font-family="Liberation Serif, serif" font-size="8.3" font-weight="bold" textLength="44.8" lengthAdjust="spacingAndGlyphs" fill="#111">RPPSFF/μM</text>
<text x="475.5" y="601" font-family="Liberation Serif, serif" font-size="8.3" font-weight="bold" text-anchor="middle" fill="#111">-</text>
<text x="497.6" y="601" font-family="Liberation Serif, serif" font-size="8.3" font-weight="bold" text-anchor="middle" fill="#111">-</text>
<text x="522.1" y="601" font-family="Liberation Serif, serif" font-size="8.3" font-weight="bold" text-anchor="middle" fill="#111">-</text>
<text x="545.3" y="601" font-family="Liberation Serif, serif" font-size="8.3" font-weight="bold" textLength="8.3" lengthAdjust="spacingAndGlyphs" fill="#111">20</text>
<text x="569.1" y="601" font-family="Liberation Serif, serif" font-size="8.3" font-weight="bold" textLength="8.3" lengthAdjust="spacingAndGlyphs" fill="#111">40</text>
<text x="592.8" y="601" font-family="Liberation Serif, serif" font-size="8.3" font-weight="bold" textLength="8.3" lengthAdjust="spacingAndGlyphs" fill="#111">80</text>
</svg></body></html>
